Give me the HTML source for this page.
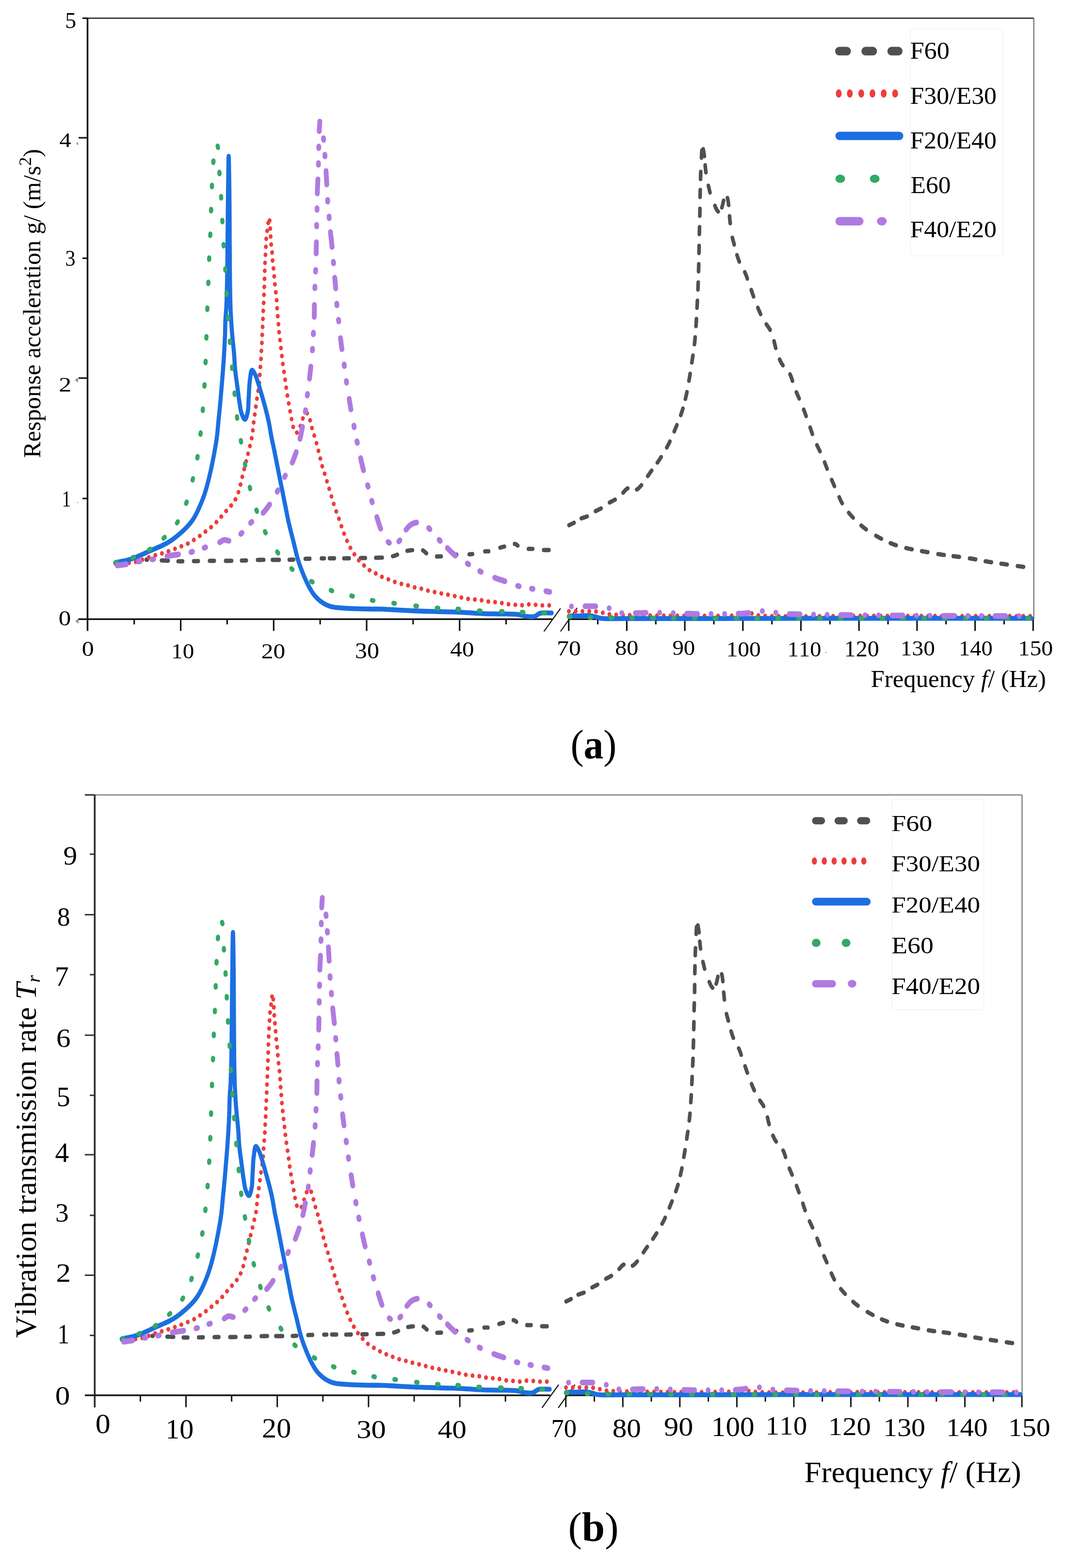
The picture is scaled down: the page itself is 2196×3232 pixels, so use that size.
<!DOCTYPE html>
<html><head><meta charset="utf-8"><style>
html,body{margin:0;padding:0;background:#fff;}
svg{display:block;filter:blur(0.5px);}
text{font-family:"Liberation Serif","Times New Roman",serif;font-kerning:none;}
</style></head><body>
<svg width="2196" height="3232" viewBox="0 0 2196 3232">
<rect width="2196" height="3232" fill="#fff"/>
<rect x="1877.2" y="59.3" width="191" height="468" fill="none" stroke="#f2f5fa" stroke-width="2"/>
<rect x="1838.5" y="1647.8" width="190" height="433.5" fill="none" stroke="#f2f5fa" stroke-width="2"/>
<line x1="180.5" y1="37.5" x2="2131.7" y2="37.5" stroke="#222" stroke-width="2.5" stroke-linecap="butt"/>
<line x1="2131.7" y1="37.5" x2="2131.7" y2="1276" stroke="#606060" stroke-width="2.0" stroke-linecap="butt"/>
<line x1="180.5" y1="37" x2="180.5" y2="1300.5" stroke="#141414" stroke-width="3.5" stroke-linecap="butt"/>
<line x1="161.5" y1="1276.2" x2="1138.7" y2="1276.2" stroke="#141414" stroke-width="3.5" stroke-linecap="butt"/>
<line x1="1172.5" y1="1276.2" x2="2131.7" y2="1276.2" stroke="#141414" stroke-width="3.5" stroke-linecap="butt"/>
<line x1="170" y1="37.5" x2="180.5" y2="37.5" stroke="#141414" stroke-width="3.2" stroke-linecap="butt"/>
<line x1="162" y1="284" x2="180.5" y2="284" stroke="#141414" stroke-width="3.2" stroke-linecap="butt"/>
<line x1="170" y1="532.3" x2="180.5" y2="532.3" stroke="#141414" stroke-width="3.2" stroke-linecap="butt"/>
<line x1="162" y1="779.3" x2="180.5" y2="779.3" stroke="#141414" stroke-width="3.2" stroke-linecap="butt"/>
<line x1="170" y1="1027.5" x2="180.5" y2="1027.5" stroke="#141414" stroke-width="3.2" stroke-linecap="butt"/>
<line x1="276.75" y1="1276" x2="276.75" y2="1287" stroke="#141414" stroke-width="3.2" stroke-linecap="butt"/>
<line x1="372.6" y1="1276" x2="372.6" y2="1300.5" stroke="#141414" stroke-width="3.2" stroke-linecap="butt"/>
<line x1="468.45000000000005" y1="1276" x2="468.45000000000005" y2="1287" stroke="#141414" stroke-width="3.2" stroke-linecap="butt"/>
<line x1="564.3000000000001" y1="1276" x2="564.3000000000001" y2="1300.5" stroke="#141414" stroke-width="3.2" stroke-linecap="butt"/>
<line x1="660.1500000000001" y1="1276" x2="660.1500000000001" y2="1287" stroke="#141414" stroke-width="3.2" stroke-linecap="butt"/>
<line x1="756.0" y1="1276" x2="756.0" y2="1300.5" stroke="#141414" stroke-width="3.2" stroke-linecap="butt"/>
<line x1="851.85" y1="1276" x2="851.85" y2="1287" stroke="#141414" stroke-width="3.2" stroke-linecap="butt"/>
<line x1="947.7" y1="1276" x2="947.7" y2="1300.5" stroke="#141414" stroke-width="3.2" stroke-linecap="butt"/>
<line x1="1043.5500000000002" y1="1276" x2="1043.5500000000002" y2="1287" stroke="#141414" stroke-width="3.2" stroke-linecap="butt"/>
<line x1="1172.7" y1="1276" x2="1172.7" y2="1300.5" stroke="#141414" stroke-width="3.2" stroke-linecap="butt"/>
<line x1="1232.55" y1="1276" x2="1232.55" y2="1287" stroke="#141414" stroke-width="3.2" stroke-linecap="butt"/>
<line x1="1292.4" y1="1276" x2="1292.4" y2="1300.5" stroke="#141414" stroke-width="3.2" stroke-linecap="butt"/>
<line x1="1352.25" y1="1276" x2="1352.25" y2="1287" stroke="#141414" stroke-width="3.2" stroke-linecap="butt"/>
<line x1="1412.1000000000001" y1="1276" x2="1412.1000000000001" y2="1300.5" stroke="#141414" stroke-width="3.2" stroke-linecap="butt"/>
<line x1="1471.95" y1="1276" x2="1471.95" y2="1287" stroke="#141414" stroke-width="3.2" stroke-linecap="butt"/>
<line x1="1531.8000000000002" y1="1276" x2="1531.8000000000002" y2="1300.5" stroke="#141414" stroke-width="3.2" stroke-linecap="butt"/>
<line x1="1591.65" y1="1276" x2="1591.65" y2="1287" stroke="#141414" stroke-width="3.2" stroke-linecap="butt"/>
<line x1="1651.5" y1="1276" x2="1651.5" y2="1300.5" stroke="#141414" stroke-width="3.2" stroke-linecap="butt"/>
<line x1="1711.35" y1="1276" x2="1711.35" y2="1287" stroke="#141414" stroke-width="3.2" stroke-linecap="butt"/>
<line x1="1771.2" y1="1276" x2="1771.2" y2="1300.5" stroke="#141414" stroke-width="3.2" stroke-linecap="butt"/>
<line x1="1831.0500000000002" y1="1276" x2="1831.0500000000002" y2="1287" stroke="#141414" stroke-width="3.2" stroke-linecap="butt"/>
<line x1="1890.9" y1="1276" x2="1890.9" y2="1300.5" stroke="#141414" stroke-width="3.2" stroke-linecap="butt"/>
<line x1="1950.75" y1="1276" x2="1950.75" y2="1287" stroke="#141414" stroke-width="3.2" stroke-linecap="butt"/>
<line x1="2010.6000000000001" y1="1276" x2="2010.6000000000001" y2="1300.5" stroke="#141414" stroke-width="3.2" stroke-linecap="butt"/>
<line x1="2070.45" y1="1276" x2="2070.45" y2="1287" stroke="#141414" stroke-width="3.2" stroke-linecap="butt"/>
<line x1="2130.3" y1="1276" x2="2130.3" y2="1300.5" stroke="#141414" stroke-width="3.2" stroke-linecap="butt"/>
<polygon points="157,296 161,292.5 161,299.5" fill="#8a8a8a"/>
<polygon points="154.6,783.6 160.9,778.2 160.9,788.6" fill="#8a8a8a"/>
<polygon points="155.5,1280 161.5,1275 161.5,1286" fill="#8a8a8a"/>
<circle cx="160" cy="1035.8" r="1.2" fill="#999"/>
<circle cx="1702.6" cy="1345" r="1.2" fill="#999"/>
<line x1="1121.6" y1="1301.6" x2="1155.8" y2="1254" stroke="#141414" stroke-width="2.2" stroke-linecap="butt"/>
<line x1="1155.8" y1="1301.6" x2="1190" y2="1253" stroke="#141414" stroke-width="2.2" stroke-linecap="butt"/>
<line x1="195.3" y1="1638.5" x2="2107.5" y2="1638.5" stroke="#666" stroke-width="2.2" stroke-linecap="butt"/>
<line x1="2107.5" y1="1638.5" x2="2107.5" y2="2876" stroke="#666" stroke-width="2.0" stroke-linecap="butt"/>
<line x1="195.3" y1="1638" x2="195.3" y2="2901" stroke="#2a2a2a" stroke-width="3.6" stroke-linecap="butt"/>
<line x1="175" y1="2876" x2="1134.4" y2="2876" stroke="#141414" stroke-width="3.5" stroke-linecap="butt"/>
<line x1="1166.7" y1="2876" x2="2107.5" y2="2876" stroke="#141414" stroke-width="3.5" stroke-linecap="butt"/>
<line x1="174.9" y1="1638.5" x2="195.3" y2="1638.5" stroke="#333" stroke-width="3.0" stroke-linecap="butt"/>
<line x1="185.2" y1="1760.7" x2="195.3" y2="1760.7" stroke="#333" stroke-width="3.0" stroke-linecap="butt"/>
<line x1="174.9" y1="1885.4" x2="195.3" y2="1885.4" stroke="#333" stroke-width="3.0" stroke-linecap="butt"/>
<line x1="185.2" y1="2009" x2="195.3" y2="2009" stroke="#333" stroke-width="3.0" stroke-linecap="butt"/>
<line x1="174.9" y1="2133.8" x2="195.3" y2="2133.8" stroke="#333" stroke-width="3.0" stroke-linecap="butt"/>
<line x1="185.2" y1="2257.7" x2="195.3" y2="2257.7" stroke="#333" stroke-width="3.0" stroke-linecap="butt"/>
<line x1="174.9" y1="2380.1" x2="195.3" y2="2380.1" stroke="#333" stroke-width="3.0" stroke-linecap="butt"/>
<line x1="185.2" y1="2505.1" x2="195.3" y2="2505.1" stroke="#333" stroke-width="3.0" stroke-linecap="butt"/>
<line x1="174.9" y1="2628.5" x2="195.3" y2="2628.5" stroke="#333" stroke-width="3.0" stroke-linecap="butt"/>
<line x1="185.2" y1="2752.6" x2="195.3" y2="2752.6" stroke="#333" stroke-width="3.0" stroke-linecap="butt"/>
<line x1="289.4" y1="2876" x2="289.4" y2="2889" stroke="#141414" stroke-width="3.0" stroke-linecap="butt"/>
<line x1="383.5" y1="2876" x2="383.5" y2="2900.5" stroke="#141414" stroke-width="3.0" stroke-linecap="butt"/>
<line x1="477.6" y1="2876" x2="477.6" y2="2889" stroke="#141414" stroke-width="3.0" stroke-linecap="butt"/>
<line x1="571.7" y1="2876" x2="571.7" y2="2900.5" stroke="#141414" stroke-width="3.0" stroke-linecap="butt"/>
<line x1="665.8" y1="2876" x2="665.8" y2="2889" stroke="#141414" stroke-width="3.0" stroke-linecap="butt"/>
<line x1="759.9000000000001" y1="2876" x2="759.9000000000001" y2="2900.5" stroke="#141414" stroke-width="3.0" stroke-linecap="butt"/>
<line x1="854.0" y1="2876" x2="854.0" y2="2889" stroke="#141414" stroke-width="3.0" stroke-linecap="butt"/>
<line x1="948.0999999999999" y1="2876" x2="948.0999999999999" y2="2900.5" stroke="#141414" stroke-width="3.0" stroke-linecap="butt"/>
<line x1="1042.2" y1="2876" x2="1042.2" y2="2889" stroke="#141414" stroke-width="3.0" stroke-linecap="butt"/>
<line x1="1166.7" y1="2876" x2="1166.7" y2="2900.5" stroke="#141414" stroke-width="3.0" stroke-linecap="butt"/>
<line x1="1225.4750000000001" y1="2876" x2="1225.4750000000001" y2="2889" stroke="#141414" stroke-width="3.0" stroke-linecap="butt"/>
<line x1="1284.25" y1="2876" x2="1284.25" y2="2900.5" stroke="#141414" stroke-width="3.0" stroke-linecap="butt"/>
<line x1="1343.025" y1="2876" x2="1343.025" y2="2889" stroke="#141414" stroke-width="3.0" stroke-linecap="butt"/>
<line x1="1401.8000000000002" y1="2876" x2="1401.8000000000002" y2="2900.5" stroke="#141414" stroke-width="3.0" stroke-linecap="butt"/>
<line x1="1460.575" y1="2876" x2="1460.575" y2="2889" stroke="#141414" stroke-width="3.0" stroke-linecap="butt"/>
<line x1="1519.3500000000001" y1="2876" x2="1519.3500000000001" y2="2900.5" stroke="#141414" stroke-width="3.0" stroke-linecap="butt"/>
<line x1="1578.125" y1="2876" x2="1578.125" y2="2889" stroke="#141414" stroke-width="3.0" stroke-linecap="butt"/>
<line x1="1636.9" y1="2876" x2="1636.9" y2="2900.5" stroke="#141414" stroke-width="3.0" stroke-linecap="butt"/>
<line x1="1695.6750000000002" y1="2876" x2="1695.6750000000002" y2="2889" stroke="#141414" stroke-width="3.0" stroke-linecap="butt"/>
<line x1="1754.45" y1="2876" x2="1754.45" y2="2900.5" stroke="#141414" stroke-width="3.0" stroke-linecap="butt"/>
<line x1="1813.2250000000001" y1="2876" x2="1813.2250000000001" y2="2889" stroke="#141414" stroke-width="3.0" stroke-linecap="butt"/>
<line x1="1872.0" y1="2876" x2="1872.0" y2="2900.5" stroke="#141414" stroke-width="3.0" stroke-linecap="butt"/>
<line x1="1930.775" y1="2876" x2="1930.775" y2="2889" stroke="#141414" stroke-width="3.0" stroke-linecap="butt"/>
<line x1="1989.5500000000002" y1="2876" x2="1989.5500000000002" y2="2900.5" stroke="#141414" stroke-width="3.0" stroke-linecap="butt"/>
<line x1="2048.3250000000003" y1="2876" x2="2048.3250000000003" y2="2889" stroke="#141414" stroke-width="3.0" stroke-linecap="butt"/>
<line x1="2107.1000000000004" y1="2876" x2="2107.1000000000004" y2="2900.5" stroke="#141414" stroke-width="3.0" stroke-linecap="butt"/>
<line x1="1117.5" y1="2902" x2="1152" y2="2854" stroke="#141414" stroke-width="2.2" stroke-linecap="butt"/>
<line x1="1151" y1="2902" x2="1185.5" y2="2854" stroke="#141414" stroke-width="2.2" stroke-linecap="butt"/>
<g transform="scale(1,1.18)"><path d="M301.8,977.57 303.6,977.62 M333.1,978.89 335.9,979.02 339.0,979.15 341.8,979.28 344.6,979.41 346.7,979.51 M367.3,980.40 369.3,980.46 372.0,980.51 374.7,980.54 376.5,980.55 M399.5,980.24 401.3,980.21 404.0,980.17 406.7,980.13 408.7,980.10 M432.2,979.71 434.2,979.69 437.0,979.66 439.7,979.65 441.7,979.64 M465.3,979.69 467.3,979.68 470.0,979.66 472.8,979.63 475.5,979.60 477.5,979.58 M498.2,979.18 500.3,979.14 503.0,979.07 505.8,978.99 507.8,978.93 M531.2,978.07 533.2,978.02 536.0,977.97 538.8,977.93 541.6,977.90 543.7,977.89 M561.9,977.94 563.8,977.95 566.4,977.96 569.0,977.97 571.1,977.97 573.2,977.98 575.2,978.00 575.6,978.00 M596.5,977.85 598.1,977.78 600.7,977.65 603.4,977.51 605.3,977.40 M629.5,976.15 629.8,976.14 633.8,976.02 637.9,975.91 638.6,975.89 M662.9,975.42 663.7,975.40 667.9,975.35 668.5,975.34 M679.5,975.23 682.8,975.21 686.2,975.21 689.3,975.21 M709.1,975.28 711.9,975.27 715.0,975.25 717.8,975.23 719.9,975.21 M743.3,974.83 745.2,974.79 748.0,974.75 750.8,974.70 753.2,974.67 M774.9,974.33 776.9,974.29 779.5,974.23 782.0,974.15 783.7,974.10 785.4,974.06 786.9,974.02 788.0,974.00 M809.8,971.67 810.1,971.61 811.3,971.32 812.5,971.01 813.8,970.69 815.0,970.34 816.3,969.94 817.5,969.48 818.8,968.99 819.3,968.78 M839.6,962.23 840.0,962.17 841.2,961.97 842.5,961.78 843.7,961.60 845.0,961.44 846.3,961.29 847.5,961.16 848.8,961.05 850.1,960.95 850.4,960.93 M871.8,961.33 872.6,961.70 873.4,962.15 874.1,962.64 874.9,963.18 875.6,963.74 876.3,964.31 877.0,964.89 877.7,965.45 878.5,965.99 879.2,966.50 879.3,966.53 M900.6,972.07 901.0,972.08 902.3,972.07 903.7,972.05 905.0,972.03 906.6,971.99 908.2,971.92 909.6,971.82 M935.1,969.40 936.5,969.27 938.2,969.12 939.8,968.99 941.5,968.86 M967.6,968.28 968.1,968.26 970.0,968.14 971.4,968.02 972.7,967.89 974.0,967.75 974.3,967.72 M999.8,963.16 1000.0,963.14 1001.0,963.04 1002.1,962.99 1003.1,962.97 1004.0,962.97 1005.0,962.99 1006.0,963.02 1007.0,963.04 1007.5,963.04 M1031.1,956.73 1031.6,956.60 1033.0,956.28 1034.3,955.97 1035.6,955.66 1036.9,955.36 1038.2,955.06 1039.6,954.76 1040.0,954.65 M1061.1,950.12 1061.2,950.12 1061.8,950.23 1062.3,950.35 1062.9,950.49 1063.4,950.66 1064.0,950.85 1064.7,951.12 1065.3,951.47 1065.9,951.87 1066.6,952.31 1067.2,952.79 1067.6,953.15 M1089.7,958.70 1090.0,958.71 1091.3,958.74 1092.6,958.75 1093.9,958.75 1095.3,958.75 1096.6,958.75 1097.9,958.76 1098.3,958.76 M1121.0,960.74 1122.2,960.78 1123.8,960.80 1125.5,960.82 1127.1,960.83 1128.8,960.83 1130.4,960.83 1131.9,960.82" fill="none" stroke="#505050" stroke-width="7.5" stroke-linecap="round" stroke-linejoin="round"/>
<path d="M1173.3,917.46 1174.1,917.13 1174.9,916.81 1175.6,916.50 1176.4,916.19 1177.2,915.88 1177.9,915.57 1178.7,915.25 1179.5,914.92 1180.3,914.59 1181.1,914.23 1182.0,913.86 1182.8,913.47 1183.7,913.06 M1198.7,905.55 1199.5,905.27 1200.8,904.87 1202.1,904.50 1203.4,904.14 1204.7,903.78 1206.0,903.43 1207.3,903.07 1208.6,902.69 1209.8,902.28 1210.7,901.99 M1227.9,892.97 1228.2,892.85 1229.5,892.25 1230.9,891.67 1232.3,891.09 1233.7,890.51 1235.0,889.93 1236.4,889.34 1237.8,888.74 1239.1,888.13 1239.4,888.00 M1256.9,877.84 1257.5,877.58 1258.7,876.99 1260.0,876.42 1261.3,875.86 1262.6,875.30 1263.9,874.73 1265.2,874.15 1266.5,873.56 1267.8,872.94 1268.3,872.66 M1284.8,860.77 1285.1,860.51 1285.8,859.81 1286.5,859.10 1287.2,858.40 1287.9,857.71 1288.5,857.04 1289.2,856.40 1289.9,855.79 1290.6,855.22 1291.3,854.70 1292.0,854.24 1292.6,853.90 1293.1,853.57 1293.7,853.25 1294.3,852.95 1294.4,852.91 M1312.9,855.14 1313.0,855.08 1313.8,854.73 1314.6,854.28 1315.5,853.74 1316.3,853.14 1317.2,852.46 1318.1,851.73 1318.9,850.96 1319.8,850.13 1320.7,849.28 1321.6,848.40 1322.5,847.51 1322.6,847.43 M1335.7,831.66 1336.8,830.28 1338.2,828.52 1339.6,826.78 1341.2,824.90 1342.8,823.00 1343.6,822.01 M1355.5,808.19 1356.2,807.37 1357.8,805.35 1359.4,803.31 1361.0,801.16 1362.7,798.99 1363.2,798.33 M1374.9,781.73 1375.3,781.04 1376.8,778.75 1378.2,776.44 1379.6,774.13 1380.9,771.79 1381.3,771.04 M1390.3,753.59 1390.7,752.75 1391.8,750.36 1393.0,747.97 1394.2,745.60 1395.3,743.23 1395.7,742.35 M1403.7,725.20 1404.1,724.20 1405.1,721.81 1406.0,719.41 1406.9,717.05 1407.7,714.70 1408.1,713.53 M1413.3,696.88 1413.6,695.72 1414.2,693.29 1414.9,690.85 1415.6,688.26 1416.2,685.65 1416.4,684.78 M1420.6,665.11 1420.7,664.32 1421.3,661.65 1421.8,658.98 1422.3,656.33 1422.9,653.68 1423.0,652.85 M1426.6,633.28 1426.8,632.43 1427.2,629.78 1427.7,627.12 1428.2,624.47 1428.6,621.81 1428.8,620.96 M1431.9,601.45 1432.0,600.57 1432.4,597.91 1432.7,595.25 1433.0,592.60 1433.3,589.95 1433.4,589.04 M1435.1,569.62 1435.2,568.71 1435.4,566.05 1435.6,563.39 1435.8,560.73 1436.0,558.07 1436.0,557.16 M1437.2,537.68 1437.3,536.76 1437.4,534.10 1437.6,531.44 1437.8,528.78 1437.9,526.13 1438.0,525.20 M1439.1,505.82 1439.1,504.89 1439.3,502.23 1439.4,499.58 1439.5,496.91 1439.6,494.22 1439.7,493.33 M1440.4,473.96 1440.4,472.77 1440.5,470.21 1440.6,467.71 1440.7,465.59 1440.7,463.54 1440.8,461.53 1440.8,461.47 M1441.3,441.95 1441.4,441.00 1441.4,438.38 1441.5,435.70 1441.5,432.98 1441.6,430.22 1441.6,429.45 M1442.0,409.04 1442.1,408.10 1442.2,405.44 1442.2,402.79 1442.3,400.15 1442.4,397.51 1442.5,396.55 M1443.0,377.06 1443.1,376.27 1443.1,373.54 1443.2,370.81 1443.2,368.07 1443.2,365.33 1443.2,364.56 M1443.5,344.18 1443.6,343.48 1443.6,340.73 1443.7,337.94 1443.8,335.13 1443.8,332.33 1443.9,331.69 M1444.5,312.71 1444.5,311.55 1444.5,310.22 1444.6,308.93 1444.6,307.69 1444.7,306.47 1444.7,305.27 1444.8,304.07 1444.8,302.88 1444.9,301.66 1444.9,300.43 1444.9,300.22 M1446.4,275.57 1446.5,275.23 1446.6,272.30 1446.8,269.33 1447.0,266.41 1447.2,263.66 1447.2,263.09 M1450.0,260.43 1450.0,260.54 1450.2,261.29 1450.3,262.03 1450.5,262.71 1450.7,263.62 1450.9,264.56 1451.1,265.53 1451.3,266.53 1451.5,267.55 1451.7,268.61 1451.9,269.69 1452.1,270.79 1452.3,271.92 1452.4,272.68 M1454.1,288.69 1454.1,289.53 1454.3,291.36 1454.5,293.16 1454.7,294.91 1454.9,296.61 1455.1,298.08 1455.3,299.50 1455.5,300.89 1455.6,301.10 M1460.6,324.27 1460.9,325.28 1461.6,327.79 1462.3,330.30 1463.0,332.78 1463.7,335.19 1464.0,336.29 M1474.1,359.24 1474.5,360.10 1474.9,361.09 1475.4,362.06 1475.9,363.01 1476.4,363.93 1476.9,364.82 1477.4,365.65 1477.9,366.43 1478.4,367.15 1479.0,367.80 1479.4,368.22 1479.8,368.64 1480.2,369.07 1480.7,369.48 1480.8,369.63 M1488.5,362.42 1488.6,361.98 1489.0,361.02 1489.4,359.95 1489.7,358.83 1490.1,357.67 1490.4,356.48 1490.7,355.27 1491.0,354.06 1491.3,352.86 1491.6,351.69 1491.9,350.55 1492.0,350.43 M1500.0,345.98 1500.0,346.04 1500.3,346.77 1500.5,347.46 1500.8,348.31 1501.0,349.20 1501.2,350.11 1501.4,351.06 1501.6,352.03 1501.7,353.02 1501.8,354.03 1502.0,355.06 1502.1,356.11 1502.2,357.17 1502.4,358.22 M1504.3,377.62 1504.3,378.01 1504.5,379.21 1504.6,380.39 1504.7,381.55 1504.8,382.70 1504.9,383.84 1505.1,384.99 1505.2,386.15 1505.3,387.32 1505.5,388.52 1505.6,389.75 1505.7,390.05 M1510.1,415.20 1510.2,415.43 1510.6,416.88 1511.1,418.31 1511.5,419.74 1512.0,421.16 1512.5,422.57 1512.9,423.98 1513.4,425.39 1513.9,426.81 1513.9,427.09 M1519.7,445.54 1519.8,445.81 1520.2,446.95 1520.6,448.08 1521.1,449.20 1521.5,450.31 1521.9,451.40 1522.3,452.48 1522.8,453.55 1523.2,454.60 1523.7,455.63 1524.1,456.64 1524.4,457.14 M1535.7,475.30 1536.1,476.02 1536.9,477.51 1537.7,479.12 1538.5,480.83 1539.3,482.62 1540.1,484.49 1540.9,486.42 1540.9,486.63 M1549.1,506.45 1549.6,507.71 1550.6,510.10 1551.5,512.50 1552.5,514.91 1553.5,517.34 1553.8,518.02 M1562.7,537.52 1563.9,540.06 1565.2,542.69 1566.6,545.31 1567.9,547.89 1568.3,548.69 M1580.2,566.48 1580.7,567.09 1582.2,568.85 1583.7,570.62 1585.2,572.41 1586.6,574.24 1588.0,576.13 1588.0,576.21 M1596.1,595.95 1596.2,596.41 1597.0,599.28 1597.8,602.12 1598.6,604.92 1599.4,607.65 1599.5,607.97 M1607.6,627.79 1607.9,628.32 1608.8,630.11 1609.8,631.86 1610.9,633.58 1612.0,635.25 1613.1,636.75 1614.4,638.16 1614.4,638.22 M1629.0,653.77 1630.1,655.82 1631.2,658.09 1632.2,660.44 1633.2,662.87 1634.0,665.21 M1642.1,685.04 1643.3,687.39 1644.5,689.75 1645.7,692.12 1647.0,694.48 1647.8,696.15 M1657.2,715.41 1657.6,716.39 1658.8,718.95 1659.9,721.51 1661.0,724.08 1662.1,726.66 1662.2,726.87 M1670.5,746.64 1670.5,746.64 1671.4,749.04 1672.4,751.43 1673.3,753.82 1674.3,756.20 1675.1,758.23 M1684.5,777.49 1684.6,777.60 1685.9,779.97 1687.3,782.34 1688.6,784.71 1690.0,787.08 1690.7,788.34 M1700.3,807.48 1700.8,808.44 1701.8,810.82 1702.9,813.19 1704.0,815.58 1705.0,817.96 1705.4,818.88 M1714.9,838.13 1716.1,840.60 1717.5,843.19 1718.8,845.77 1720.1,848.33 1720.6,849.23 M1730.4,868.32 1731.0,869.50 1732.1,871.72 1733.3,873.92 1734.5,876.08 1735.8,878.22 1736.5,879.22 M1750.1,895.71 1751.7,897.33 1753.5,899.08 1755.3,900.82 1757.1,902.54 1759.0,904.24 1759.1,904.35 M1775.7,917.87 1776.6,918.53 1778.7,920.00 1780.8,921.46 1783.0,922.88 1785.2,924.31 1786.1,924.84 M1806.1,935.76 1806.8,936.11 1809.2,937.30 1811.7,938.47 1814.1,939.62 1816.6,940.75 1817.4,941.10 M1835.9,948.67 1836.6,948.94 1839.2,949.83 1841.8,950.68 1844.4,951.49 1847.1,952.27 1847.8,952.46 M1868.2,957.25 1868.8,957.38 1871.6,957.93 1874.3,958.47 1877.0,958.99 1879.7,959.47 1880.4,959.60 M1900.6,962.64 1901.3,962.75 1904.1,963.15 1906.8,963.56 1909.6,963.99 1912.4,964.43 1913.0,964.52 M1934.3,967.79 1934.9,967.88 1937.7,968.27 1940.5,968.64 1943.1,968.98 1945.8,969.30 1946.7,969.41 M1965.6,971.43 1966.5,971.53 1969.2,971.82 1971.8,972.12 1974.6,972.44 1977.4,972.76 1978.0,972.83 M1999.3,975.36 1999.9,975.44 2002.7,975.81 2005.5,976.19 2008.2,976.58 2011.0,976.98 2011.7,977.10 M2031.8,980.35 2032.6,980.47 2035.3,980.88 2038.0,981.27 2040.7,981.65 2043.4,982.01 2044.2,982.11 M2064.3,984.58 2065.0,984.67 2067.8,985.00 2070.5,985.34 2073.4,985.69 2076.3,986.06 2076.7,986.11 M2098.0,988.74 2099.8,988.96 2102.2,989.25 2104.2,989.49 2105.1,989.60 2106.0,989.70 2106.8,989.80 2107.6,989.89 2108.3,989.97 2109.0,990.05 2109.6,990.12 2110.3,990.20 2110.4,990.21" fill="none" stroke="#505050" stroke-width="7.5" stroke-linecap="round" stroke-linejoin="round"/>
<path d="M238.0,984.41 243.1,984.13 248.3,983.92 253.5,983.74 258.7,983.55 263.8,983.30 268.8,982.95 273.7,982.46 278.3,981.78 282.1,981.01 285.9,980.07 289.6,979.01 293.2,977.89 296.6,976.75 300.0,975.64 303.1,974.62 306.1,973.73 308.1,973.18 309.9,972.67 311.7,972.19 313.4,971.74 315.0,971.30 316.6,970.86 318.3,970.43 320.0,970.00 321.7,969.58 323.4,969.18 325.0,968.78 326.7,968.39 328.4,968.01 330.1,967.61 331.7,967.20 333.4,966.78 335.1,966.34 336.7,965.89 338.4,965.44 340.0,964.98 341.7,964.51 343.4,964.03 345.0,963.54 346.7,963.05 348.4,962.54 350.2,962.01 351.9,961.47 353.7,960.93 355.4,960.38 357.2,959.83 358.9,959.28 360.6,958.73 362.2,958.20 363.8,957.66 365.4,957.12 367.0,956.57 368.6,956.03 370.1,955.49 371.7,954.95 373.3,954.41 374.9,953.89 376.5,953.39 378.0,952.90 379.6,952.40 381.2,951.89 382.8,951.36 384.3,950.79 385.9,950.17 387.5,949.46 389.1,948.71 390.7,947.92 392.3,947.09 393.9,946.25 395.5,945.41 397.1,944.56 398.6,943.73 400.1,942.94 401.5,942.14 403.0,941.34 404.4,940.54 405.8,939.73 407.2,938.92 408.6,938.11 410.0,937.29 411.3,936.51 412.6,935.75 413.8,935.00 415.0,934.25 416.3,933.46 417.6,932.63 418.9,931.74 420.4,930.76 422.9,929.13 425.6,927.33 428.4,925.40 431.4,923.36 434.5,921.24 437.5,919.07 440.4,916.87 443.2,914.66 445.9,912.38 448.5,910.02 451.1,907.59 453.6,905.12 456.1,902.64 458.6,900.17 461.1,897.73 463.5,895.34 465.8,893.13 468.2,890.92 470.6,888.73 473.0,886.55 475.3,884.39 477.4,882.27 479.4,880.18 481.2,878.14 482.4,876.61 483.5,875.13 484.5,873.68 485.5,872.24 486.4,870.80 487.2,869.35 488.0,867.87 488.8,866.36 489.6,864.79 490.3,863.21 491.0,861.60 491.6,859.98 492.2,858.35 492.8,856.70 493.3,855.05 493.9,853.39 494.4,851.68 494.9,849.95 495.4,848.20 495.9,846.45 496.3,844.69 496.8,842.94 497.2,841.21 497.7,839.49 498.2,837.89 498.6,836.34 499.1,834.82 499.5,833.30 500.0,831.74 500.5,830.13 501.0,828.43 501.5,826.61 502.3,823.75 503.3,820.58 504.2,817.21 505.2,813.73 506.3,810.25 507.2,806.87 508.2,803.70 509.0,800.85 509.5,799.03 510.0,797.33 510.5,795.72 511.0,794.16 511.4,792.64 511.9,791.12 512.3,789.57 512.8,787.97 513.3,786.25 513.8,784.51 514.3,782.76 514.8,781.01 515.3,779.25 515.8,777.49 516.2,775.73 516.7,773.98 517.2,772.26 517.6,770.53 518.1,768.81 518.6,767.08 519.0,765.36 519.5,763.65 519.8,761.95 520.2,760.25 520.5,758.67 520.7,757.10 521.0,755.54 521.2,753.99 521.3,752.43 521.5,750.87 521.7,749.30 521.9,747.71 522.1,746.04 522.3,744.36 522.5,742.66 522.7,740.96 522.9,739.26 523.1,737.55 523.4,735.85 523.6,734.15 523.9,732.47 524.1,730.79 524.4,729.12 524.7,727.44 525.0,725.76 525.3,724.08 525.6,722.39 525.9,720.68 526.2,718.89 526.5,717.09 526.8,715.27 527.1,713.45 527.3,711.63 527.6,709.81 527.9,707.99 528.2,706.19 528.5,704.41 528.8,702.64 529.0,700.88 529.3,699.11 529.6,697.35 529.9,695.60 530.2,693.86 530.5,692.12 530.8,690.44 531.1,688.78 531.4,687.12 531.8,685.47 532.1,683.82 532.4,682.16 532.7,680.50 533.0,678.81 533.3,677.07 533.6,675.30 533.8,673.53 534.1,671.75 534.4,669.97 534.6,668.19 534.8,666.42 535.0,664.66 535.1,662.96 535.3,661.26 535.4,659.57 535.4,657.88 535.5,656.19 535.6,654.50 535.7,652.80 535.8,651.10 536.0,649.36 536.1,647.61 536.3,645.86 536.5,644.11 536.7,642.36 536.9,640.60 537.1,638.86 537.3,637.12 537.5,635.41 537.6,633.71 537.8,632.02 537.9,630.32 538.1,628.63 538.2,626.94 538.4,625.25 538.5,623.56 538.6,621.88 538.7,620.20 538.8,618.52 538.9,616.84 538.9,615.16 539.0,613.47 539.1,611.78 539.2,610.08 539.3,608.34 539.4,606.59 539.6,604.83 539.7,603.07 539.8,601.30 540.0,599.54 540.1,597.78 540.2,596.02 540.3,594.27 540.4,592.53 540.5,590.79 540.6,589.05 540.6,587.31 540.7,585.56 540.8,583.80 540.9,582.03 541.0,580.18 541.1,578.29 541.2,576.39 541.3,574.49 541.4,572.59 541.5,570.71 541.6,568.85 541.7,567.03 541.8,565.40 541.9,563.80 542.0,562.23 542.1,560.66 542.1,559.10 542.2,557.53 542.3,555.94 542.4,554.32 542.5,552.55 542.6,550.76 542.6,548.94 542.7,547.11 542.8,545.27 542.8,543.44 542.9,541.63 543.0,539.83 543.1,538.10 543.2,536.38 543.3,534.67 543.4,532.96 543.5,531.26 543.6,529.56 543.7,527.87 543.8,526.19 543.9,524.56 544.0,522.95 544.0,521.35 544.1,519.75 544.2,518.15 544.3,516.54 544.3,514.93 544.4,513.31 544.5,511.62 544.6,509.93 544.6,508.24 544.7,506.53 544.8,504.82 544.9,503.11 544.9,501.39 545.0,499.66 545.1,497.87 545.2,496.07 545.2,494.26 545.3,492.44 545.4,490.62 545.5,488.80 545.5,486.98 545.6,485.17 545.7,483.36 545.7,481.54 545.8,479.72 545.8,477.90 545.8,476.08 545.9,474.27 545.9,472.47 546.0,470.68 546.1,468.95 546.1,467.23 546.2,465.52 546.3,463.81 546.3,462.11 546.4,460.40 546.5,458.68 546.6,456.95 546.7,455.16 546.8,453.35 546.9,451.54 547.0,449.73 547.1,447.91 547.3,446.09 547.4,444.27 547.5,442.46 547.6,440.64 547.7,438.81 547.8,436.99 548.0,435.16 548.1,433.34 548.2,431.53 548.3,429.74 548.4,427.97 548.5,426.32 548.6,424.71 548.7,423.11 548.7,421.52 548.8,419.93 548.9,418.34 549.0,416.72 549.2,415.08 549.4,413.33 549.6,411.57 549.9,409.81 550.1,408.03 550.4,406.23 550.7,404.40 551.0,402.52 551.3,400.59 551.7,397.96 552.2,394.85 552.7,391.53 553.2,388.23 553.7,385.23 554.2,382.77 554.6,381.11 555.0,380.51 555.3,380.99 555.6,382.31 555.9,384.25 556.1,386.63 556.4,389.26 556.6,391.92 556.8,394.44 557.0,396.61 557.2,398.37 557.3,400.09 557.4,401.79 557.5,403.48 557.6,405.16 557.7,406.84 557.8,408.54 557.9,410.25 558.0,412.05 558.1,413.86 558.2,415.68 558.3,417.50 558.5,419.32 558.6,421.14 558.7,422.95 558.9,424.75 559.1,426.48 559.3,428.21 559.6,429.92 559.9,431.64 560.1,433.34 560.4,435.05 560.6,436.76 560.8,438.47 561.0,440.18 561.1,441.89 561.2,443.59 561.2,445.30 561.3,447.00 561.4,448.71 561.5,450.41 561.7,452.12 561.9,453.83 562.1,455.55 562.4,457.27 562.6,458.98 562.9,460.70 563.1,462.42 563.4,464.13 563.6,465.85 563.8,467.55 564.0,469.26 564.2,470.96 564.4,472.67 564.6,474.37 564.7,476.08 564.9,477.78 565.1,479.49 565.3,481.20 565.4,482.91 565.6,484.62 565.8,486.33 566.0,488.05 566.1,489.76 566.3,491.49 566.5,493.22 566.7,495.01 566.9,496.81 567.1,498.61 567.4,500.43 567.6,502.24 567.8,504.04 568.1,505.84 568.3,507.63 568.5,509.36 568.8,511.08 569.0,512.80 569.3,514.51 569.6,516.22 569.8,517.93 570.0,519.64 570.2,521.36 570.4,523.06 570.5,524.77 570.6,526.47 570.7,528.18 570.8,529.88 570.9,531.59 571.0,533.29 571.1,535.00 571.2,536.71 571.4,538.43 571.5,540.15 571.7,541.87 571.8,543.58 572.0,545.30 572.1,547.02 572.3,548.73 572.5,550.44 572.7,552.14 572.9,553.85 573.0,555.55 573.2,557.25 573.4,558.96 573.6,560.67 573.8,562.37 574.0,564.09 574.1,565.80 574.2,567.52 574.4,569.24 574.5,570.96 574.7,572.67 574.8,574.39 575.0,576.10 575.2,577.81 575.4,579.52 575.6,581.22 575.9,582.93 576.1,584.63 576.3,586.34 576.6,588.04 576.8,589.75 577.0,591.45 577.3,593.16 577.5,594.86 577.7,596.57 578.0,598.27 578.2,599.98 578.5,601.68 578.7,603.39 578.9,605.10 579.2,606.82 579.4,608.53 579.7,610.25 579.9,611.97 580.1,613.69 580.4,615.40 580.6,617.12 580.8,618.84 581.1,620.55 581.3,622.27 581.5,623.99 581.8,625.70 582.0,627.42 582.3,629.13 582.5,630.85 582.8,632.56 583.0,634.27 583.3,635.99 583.5,637.70 583.8,639.41 584.0,641.11 584.3,642.81 584.6,644.49 584.9,646.12 585.2,647.73 585.5,649.33 585.8,650.93 586.1,652.53 586.4,654.13 586.7,655.74 587.0,657.37 587.3,659.07 587.6,660.77 587.8,662.49 588.1,664.21 588.4,665.94 588.7,667.66 588.9,669.38 589.2,671.10 589.5,672.81 589.7,674.51 590.0,676.21 590.3,677.91 590.5,679.61 590.8,681.32 591.1,683.03 591.4,684.75 591.7,686.51 592.1,688.29 592.4,690.08 592.8,691.87 593.1,693.65 593.5,695.44 593.8,697.22 594.2,698.98 594.5,700.71 594.9,702.42 595.2,704.14 595.6,705.85 595.9,707.55 596.3,709.25 596.6,710.94 597.0,712.63 597.4,714.25 597.7,715.86 598.1,717.45 598.4,719.04 598.8,720.64 599.2,722.24 599.5,723.86 599.9,725.51 600.3,727.28 600.6,729.09 601.0,730.91 601.3,732.75 601.7,734.58 602.0,736.41 602.4,738.22 602.9,740.00 603.4,741.78 603.9,743.66 604.4,745.57 604.9,747.44 605.5,749.22 606.1,750.85 606.8,752.26 607.5,753.39 607.9,753.89 608.3,754.36 608.7,754.79 609.2,755.16 609.6,755.47 610.1,755.71 610.5,755.87 611.0,755.93 611.5,755.89 612.0,755.74 612.5,755.50 613.0,755.19 613.5,754.81 614.0,754.37 614.5,753.89 615.0,753.39 615.8,752.37 616.5,751.11 617.2,749.67 617.9,748.10 618.6,746.46 619.2,744.79 619.9,743.16 620.5,741.61 621.1,740.11 621.7,738.57 622.2,737.01 622.7,735.46 623.2,733.93 623.8,732.44 624.4,731.01 625.0,729.66 625.6,728.54 626.1,727.38 626.7,726.22 627.3,725.11 628.0,724.09 628.6,723.21 629.3,722.51 630.0,722.03 630.4,721.85 630.9,721.72 631.3,721.63 631.8,721.60 632.2,721.62 632.7,721.70 633.1,721.84 633.5,722.03 634.3,722.69 635.0,723.69 635.7,724.97 636.4,726.44 637.0,728.04 637.6,729.68 638.2,731.29 638.8,732.80 639.4,734.34 639.9,735.91 640.3,737.51 640.8,739.13 641.2,740.76 641.6,742.40 642.1,744.04 642.6,745.68 643.2,747.37 643.7,749.08 644.3,750.79 644.9,752.51 645.6,754.22 646.2,755.93 646.8,757.63 647.4,759.32 648.0,760.95 648.6,762.57 649.2,764.18 649.8,765.78 650.4,767.38 651.0,768.99 651.6,770.59 652.1,772.20 652.6,773.81 653.1,775.42 653.6,777.03 654.1,778.64 654.5,780.25 655.0,781.86 655.4,783.47 655.9,785.08 656.4,786.69 656.9,788.29 657.3,789.90 657.8,791.50 658.3,793.10 658.8,794.72 659.2,796.34 659.7,797.97 660.2,799.66 660.6,801.38 661.1,803.11 661.5,804.84 662.0,806.57 662.5,808.29 663.0,810.00 663.5,811.69 664.0,813.33 664.6,814.95 665.2,816.57 665.8,818.17 666.5,819.77 667.1,821.37 667.7,822.97 668.3,824.58 668.9,826.18 669.5,827.79 670.1,829.39 670.7,830.99 671.2,832.60 671.8,834.21 672.4,835.83 673.0,837.46 673.6,839.14 674.2,840.84 674.8,842.54 675.4,844.25 676.0,845.97 676.6,847.68 677.2,849.39 677.8,851.10 678.4,852.81 679.0,854.52 679.6,856.23 680.1,857.95 680.7,859.66 681.3,861.36 681.9,863.06 682.5,864.75 683.1,866.38 683.7,868.01 684.3,869.63 684.9,871.24 685.5,872.86 686.1,874.47 686.7,876.09 687.3,877.71 687.9,879.37 688.5,881.03 689.2,882.70 689.8,884.37 690.4,886.04 691.1,887.71 691.7,889.37 692.4,891.02 693.1,892.64 693.8,894.26 694.5,895.87 695.2,897.47 695.9,899.08 696.6,900.68 697.3,902.29 698.0,903.90 698.7,905.51 699.3,907.12 699.9,908.74 700.6,910.35 701.2,911.97 701.8,913.58 702.5,915.18 703.1,916.78 703.7,918.34 704.3,919.88 705.0,921.42 705.6,922.96 706.2,924.50 706.9,926.04 707.5,927.59 708.2,929.15 708.9,930.81 709.7,932.49 710.5,934.19 711.3,935.88 712.1,937.58 712.9,939.26 713.7,940.91 714.5,942.54 715.3,944.06 716.0,945.56 716.8,947.04 717.6,948.50 718.4,949.96 719.2,951.42 720.0,952.87 720.9,954.32 721.8,955.82 722.8,957.33 723.8,958.83 724.8,960.33 725.9,961.82 726.9,963.29 728.0,964.75 729.1,966.19 730.2,967.57 731.2,968.95 732.3,970.32 733.4,971.67 734.5,973.00 735.6,974.31 736.8,975.60 738.0,976.86 739.2,978.09 740.5,979.28 741.8,980.46 743.1,981.61 744.5,982.74 745.9,983.87 747.2,984.99 748.6,986.10 750.0,987.22 751.3,988.34 752.7,989.47 754.0,990.58 755.4,991.66 756.9,992.71 758.3,993.71 759.8,994.66 761.3,995.53 762.9,996.33 764.5,997.09 766.1,997.82 767.8,998.52 769.4,999.22 771.1,999.94 772.7,1000.68 774.3,1001.45 775.9,1002.23 777.5,1003.02 779.0,1003.81 780.6,1004.59 782.2,1005.35 783.8,1006.08 785.5,1006.78 787.2,1007.45 789.0,1008.09 790.7,1008.70 792.5,1009.28 794.3,1009.86 796.1,1010.44 797.9,1011.02 799.7,1011.61 801.5,1012.22 803.3,1012.85 805.1,1013.48 806.8,1014.10 808.6,1014.72 810.4,1015.32 812.2,1015.90 814.0,1016.44 815.8,1016.95 817.6,1017.44 819.3,1017.90 821.1,1018.35 822.9,1018.79 824.7,1019.21 826.5,1019.61 828.2,1020.00 829.8,1020.34 831.4,1020.65 833.0,1020.94 834.6,1021.22 836.2,1021.51 837.8,1021.80 839.4,1022.11 841.0,1022.46 842.8,1022.87 844.5,1023.32 846.3,1023.80 848.1,1024.29 849.9,1024.78 851.7,1025.25 853.5,1025.70 855.3,1026.10 857.1,1026.45 858.9,1026.75 860.7,1027.03 862.5,1027.29 864.2,1027.55 866.0,1027.82 867.8,1028.13 869.6,1028.47 871.4,1028.88 873.2,1029.33 874.9,1029.80 876.7,1030.30 878.5,1030.79 880.2,1031.27 882.0,1031.71 883.8,1032.12 885.6,1032.47 887.3,1032.80 889.1,1033.09 890.9,1033.38 892.7,1033.65 894.4,1033.92 896.2,1034.20 898.0,1034.49 899.8,1034.80 901.6,1035.10 903.4,1035.41 905.1,1035.72 906.9,1036.03 908.7,1036.34 910.5,1036.65 912.3,1036.95 914.1,1037.25 915.9,1037.55 917.7,1037.84 919.5,1038.14 921.2,1038.43 923.0,1038.72 924.8,1039.02 926.6,1039.32 928.4,1039.62 930.2,1039.93 932.0,1040.24 933.8,1040.54 935.5,1040.85 937.3,1041.16 939.1,1041.47 940.8,1041.78 942.4,1042.08 944.0,1042.37 945.6,1042.67 947.2,1042.97 948.7,1043.27 950.3,1043.57 951.9,1043.86 953.6,1044.15 955.5,1044.48 957.4,1044.81 959.3,1045.14 961.2,1045.47 963.2,1045.78 965.2,1046.08 967.2,1046.36 969.3,1046.61 971.7,1046.84 974.2,1047.01 976.8,1047.15 979.4,1047.28 982.0,1047.40 984.6,1047.55 987.0,1047.73 989.3,1047.97 991.0,1048.21 992.7,1048.49 994.2,1048.80 995.8,1049.11 997.3,1049.43 998.8,1049.74 1000.4,1050.02 1002.0,1050.25 1003.7,1050.46 1005.5,1050.64 1007.3,1050.79 1009.1,1050.93 1010.9,1051.05 1012.7,1051.17 1014.5,1051.30 1016.3,1051.44 1018.1,1051.58 1019.9,1051.71 1021.7,1051.83 1023.5,1051.96 1025.2,1052.09 1027.0,1052.24 1028.8,1052.42 1030.6,1052.63 1032.4,1052.88 1034.1,1053.18 1035.9,1053.51 1037.7,1053.86 1039.4,1054.20 1041.2,1054.53 1043.0,1054.83 1044.8,1055.08 1046.7,1055.30 1048.7,1055.48 1050.7,1055.63 1052.7,1055.76 1054.7,1055.88 1056.7,1056.00 1058.6,1056.13 1060.5,1056.27 1062.2,1056.43 1063.8,1056.62 1065.3,1056.82 1066.9,1057.02 1068.5,1057.20 1070.0,1057.34 1071.6,1057.43 1073.3,1057.46 1075.2,1057.38 1077.1,1057.20 1079.1,1056.95 1081.1,1056.66 1083.2,1056.36 1085.1,1056.09 1087.1,1055.88 1089.0,1055.76 1090.7,1055.73 1092.3,1055.74 1093.9,1055.79 1095.4,1055.86 1097.0,1055.95 1098.6,1056.06 1100.2,1056.17 1101.8,1056.27 1103.5,1056.39 1105.2,1056.55 1106.9,1056.71 1108.7,1056.89 1110.4,1057.06 1112.2,1057.22 1114.1,1057.36 1116.0,1057.46 1118.5,1057.53 1121.1,1057.57 1123.7,1057.58 1126.5,1057.56 1129.2,1057.53 1132.0,1057.50 1134.8,1057.47 1137.5,1057.46" fill="none" stroke="#ed3c3c" stroke-width="8" stroke-linecap="round" stroke-linejoin="round" stroke-dasharray="0.01 14"/>
<path d="M1173.0,1067.80 1176.4,1067.79 1179.7,1067.78 1183.0,1067.77 1186.3,1067.75 1189.6,1067.74 1193.0,1067.75 1196.5,1067.76 1200.0,1067.80 1204.1,1067.83 1208.4,1067.83 1212.8,1067.83 1217.3,1067.85 1221.7,1067.92 1226.0,1068.06 1230.1,1068.29 1234.0,1068.64 1236.8,1069.04 1239.4,1069.54 1241.9,1070.11 1244.3,1070.72 1246.8,1071.34 1249.3,1071.92 1252.0,1072.45 1255.0,1072.88 1259.6,1073.35 1264.2,1073.70 1269.0,1073.95 1274.2,1074.13 1279.8,1074.26 1285.8,1074.36 1292.6,1074.46 1300.0,1074.58 1323.2,1074.93 1354.4,1075.33 1390.7,1075.68 1428.9,1075.90 1466.0,1075.89 1498.9,1075.59 1524.6,1074.90 1540.0,1073.73 1541.6,1073.41 1542.8,1073.03 1543.8,1072.62 1544.6,1072.20 1545.4,1071.82 1546.2,1071.50 1547.0,1071.28 1548.0,1071.19 1549.3,1071.28 1550.4,1071.56 1551.6,1071.99 1552.8,1072.51 1554.2,1073.08 1555.8,1073.64 1557.7,1074.16 1560.0,1074.58 1575.1,1075.79 1597.7,1076.46 1626.0,1076.70 1658.6,1076.64 1693.9,1076.40 1730.2,1076.10 1766.1,1075.88 1800.0,1075.85 1838.5,1075.96 1878.2,1076.03 1918.9,1076.09 1960.3,1076.13 2002.2,1076.16 2044.1,1076.19 2085.8,1076.23 2127.0,1076.27" fill="none" stroke="#ed3c3c" stroke-width="8" stroke-linecap="round" stroke-linejoin="round" stroke-dasharray="0.01 14"/>
<path d="M237.7,982.88 241.8,982.12 245.9,981.41 250.0,980.72 254.1,980.03 258.2,979.29 262.4,978.46 266.5,977.53 270.7,976.44 275.4,975.04 280.1,973.47 284.8,971.77 289.6,969.96 294.4,968.09 299.2,966.19 303.9,964.30 308.7,962.46 313.5,960.65 318.4,958.86 323.4,957.07 328.3,955.25 333.2,953.40 337.9,951.50 342.4,949.52 346.7,947.46 350.2,945.59 353.6,943.67 356.9,941.69 360.1,939.67 363.2,937.62 366.2,935.55 369.1,933.46 372.0,931.36 374.6,929.40 377.2,927.43 379.7,925.43 382.1,923.41 384.5,921.38 386.8,919.34 388.9,917.30 391.0,915.25 392.7,913.50 394.2,911.81 395.7,910.14 397.1,908.45 398.5,906.70 399.9,904.84 401.3,902.85 402.7,900.68 404.9,897.15 407.2,893.26 409.5,889.07 411.8,884.67 414.1,880.13 416.3,875.51 418.4,870.89 420.4,866.36 422.3,861.69 424.0,856.98 425.7,852.20 427.2,847.38 428.7,842.52 430.2,837.62 431.6,832.68 433.0,827.71 434.5,822.37 435.9,816.82 437.3,811.17 438.6,805.51 439.9,799.94 441.1,794.56 442.2,789.46 443.2,784.75 443.8,781.67 444.4,778.81 445.0,776.10 445.5,773.49 446.0,770.90 446.4,768.28 446.9,765.58 447.3,762.71 447.8,759.23 448.2,755.64 448.7,751.96 449.1,748.22 449.5,744.45 449.9,740.68 450.3,736.92 450.7,733.22 451.1,729.59 451.6,725.96 452.0,722.33 452.4,718.71 452.9,715.10 453.3,711.48 453.7,707.86 454.1,704.24 454.5,700.62 454.9,696.99 455.2,693.37 455.6,689.75 455.9,686.12 456.3,682.50 456.6,678.88 457.0,675.25 457.4,671.63 457.7,668.01 458.1,664.39 458.4,660.76 458.8,657.14 459.1,653.52 459.5,649.89 459.8,646.27 460.1,642.65 460.4,639.03 460.7,635.40 461.0,631.78 461.3,628.16 461.6,624.54 461.8,620.91 462.1,617.29 462.3,613.67 462.6,610.04 462.8,606.42 463.0,602.80 463.2,599.18 463.4,595.55 463.6,591.93 463.8,588.31 464.0,584.67 464.1,581.02 464.2,577.35 464.3,573.69 464.4,570.05 464.5,566.43 464.6,562.85 464.8,559.32 465.0,556.11 465.2,553.00 465.5,549.95 465.8,546.91 466.1,543.83 466.3,540.67 466.6,537.38 466.8,533.90 467.0,529.19 467.3,524.30 467.4,519.23 467.6,514.01 467.8,508.62 467.9,503.07 468.1,497.37 468.2,491.53 468.4,483.86 468.5,475.87 468.6,467.60 468.8,459.09 468.9,450.40 469.0,441.58 469.1,432.67 469.2,423.73 469.3,413.52 469.4,402.96 469.6,392.18 469.7,381.29 469.8,370.41 469.9,359.65 470.1,349.14 470.2,338.98 470.3,329.42 470.5,318.78 470.7,307.78 470.8,297.16 471.0,287.63 471.2,279.92 471.3,274.76 471.5,272.88 471.7,274.76 471.9,279.92 472.1,287.63 472.3,297.16 472.5,307.78 472.7,318.78 472.9,329.42 473.0,338.98 473.1,349.14 473.2,359.65 473.3,370.41 473.4,381.29 473.4,392.18 473.5,402.96 473.5,413.52 473.6,423.73 473.7,432.67 473.7,441.58 473.8,450.40 473.8,459.09 473.9,467.60 474.0,475.87 474.1,483.86 474.2,491.53 474.3,497.37 474.4,503.07 474.5,508.62 474.6,514.01 474.7,519.23 474.9,524.30 475.0,529.19 475.2,533.90 475.3,537.37 475.5,540.67 475.6,543.83 475.8,546.91 476.0,549.95 476.2,553.00 476.4,556.11 476.6,559.32 476.9,562.86 477.2,566.44 477.5,570.05 477.8,573.70 478.1,577.36 478.5,581.02 478.8,584.67 479.2,588.31 479.6,591.93 480.0,595.55 480.5,599.17 480.9,602.80 481.4,606.42 481.8,610.04 482.2,613.66 482.6,617.29 482.9,620.91 483.2,624.53 483.4,628.16 483.7,631.78 483.9,635.41 484.2,639.03 484.5,642.65 484.9,646.27 485.4,649.90 485.9,653.52 486.4,657.15 487.0,660.77 487.6,664.39 488.2,668.01 488.8,671.63 489.4,675.25 490.0,678.92 490.5,682.64 491.1,686.39 491.6,690.12 492.2,693.81 492.8,697.41 493.4,700.90 494.0,704.24 494.5,706.90 495.0,709.54 495.4,712.13 495.9,714.65 496.5,717.08 497.1,719.39 497.8,721.56 498.6,723.56 499.3,725.03 500.1,726.58 500.9,728.12 501.8,729.56 502.7,730.82 503.6,731.81 504.4,732.44 505.2,732.63 506.0,732.25 506.8,731.33 507.5,729.96 508.2,728.27 508.9,726.35 509.5,724.32 510.1,722.28 510.6,720.34 511.2,717.60 511.6,714.63 511.9,711.47 512.1,708.17 512.3,704.79 512.4,701.36 512.6,697.94 512.8,694.58 513.1,690.99 513.3,687.30 513.5,683.56 513.7,679.80 514.0,676.07 514.3,672.44 514.6,668.93 515.1,665.59 515.5,662.78 515.9,659.72 516.4,656.62 516.9,653.63 517.4,650.96 518.0,648.78 518.8,647.27 519.6,646.61 520.3,646.71 521.0,647.20 521.8,647.99 522.7,649.02 523.5,650.21 524.3,651.49 525.1,652.77 525.9,653.98 526.9,655.68 527.8,657.55 528.7,659.55 529.5,661.66 530.3,663.83 531.2,666.04 532.0,668.25 532.8,670.42 533.7,672.74 534.5,675.08 535.4,677.45 536.2,679.84 537.1,682.26 537.9,684.72 538.7,687.21 539.6,689.75 540.6,692.63 541.6,695.59 542.6,698.60 543.6,701.64 544.7,704.71 545.7,707.79 546.7,710.85 547.6,713.90 548.5,716.91 549.4,719.91 550.3,722.92 551.2,725.92 552.0,728.94 552.8,731.96 553.6,735.00 554.4,738.05 555.1,741.19 555.8,744.38 556.5,747.60 557.1,750.81 557.8,754.02 558.4,757.18 559.0,760.28 559.7,763.31 560.3,765.91 560.9,768.40 561.5,770.83 562.1,773.24 562.7,775.67 563.4,778.15 564.0,780.74 564.7,783.47 565.6,787.14 566.5,791.00 567.4,795.00 568.4,799.11 569.4,803.27 570.4,807.45 571.3,811.60 572.3,815.68 573.2,819.70 574.2,823.73 575.1,827.75 576.1,831.78 577.0,835.81 578.0,839.83 578.9,843.86 579.9,847.88 580.8,851.90 581.8,855.92 582.7,859.93 583.7,863.94 584.6,867.96 585.6,871.99 586.5,876.03 587.5,880.08 588.5,884.24 589.4,888.40 590.4,892.58 591.4,896.77 592.3,900.96 593.4,905.16 594.4,909.36 595.5,913.56 596.7,917.85 597.9,922.17 599.2,926.51 600.5,930.85 601.8,935.17 603.1,939.45 604.4,943.70 605.6,947.88 606.7,951.76 607.8,955.64 608.9,959.49 609.9,963.30 611.0,967.07 612.1,970.77 613.3,974.41 614.5,977.97 615.7,981.09 616.8,984.14 618.1,987.14 619.3,990.09 620.6,993.00 621.9,995.88 623.2,998.75 624.6,1001.61 625.9,1004.38 627.3,1007.14 628.7,1009.89 630.1,1012.61 631.5,1015.29 632.9,1017.94 634.5,1020.53 636.0,1023.05 637.5,1025.36 638.9,1027.64 640.4,1029.90 642.0,1032.11 643.6,1034.26 645.2,1036.34 646.9,1038.35 648.7,1040.25 650.4,1041.95 652.2,1043.59 654.1,1045.17 656.0,1046.68 657.9,1048.13 659.9,1049.50 661.9,1050.81 663.9,1052.03 665.8,1053.13 667.8,1054.16 669.8,1055.12 671.8,1056.03 673.9,1056.87 676.0,1057.64 678.1,1058.35 680.3,1058.98 682.5,1059.54 684.6,1060.00 686.8,1060.38 689.0,1060.69 691.3,1060.95 693.7,1061.20 696.4,1061.44 699.3,1061.69 705.4,1062.14 712.7,1062.52 720.7,1062.84 729.1,1063.11 737.6,1063.34 745.8,1063.52 753.4,1063.68 760.0,1063.81 763.6,1063.87 766.8,1063.89 769.8,1063.89 772.6,1063.88 775.5,1063.87 778.5,1063.87 781.8,1063.91 785.5,1063.98 792.6,1064.21 800.6,1064.54 809.2,1064.94 818.3,1065.39 827.8,1065.86 837.4,1066.32 847.1,1066.75 856.7,1067.12 867.7,1067.47 879.3,1067.78 891.2,1068.05 903.2,1068.32 915.1,1068.58 926.7,1068.86 937.7,1069.15 947.9,1069.49 955.0,1069.78 961.6,1070.10 967.9,1070.43 974.1,1070.77 980.1,1071.10 986.3,1071.41 992.6,1071.70 999.2,1071.95 1007.4,1072.16 1016.3,1072.29 1025.6,1072.38 1034.9,1072.45 1043.8,1072.53 1052.0,1072.65 1059.2,1072.84 1064.8,1073.14 1066.7,1073.28 1068.3,1073.44 1069.7,1073.60 1071.0,1073.77 1072.3,1073.95 1073.5,1074.14 1074.7,1074.35 1076.0,1074.58 1077.3,1074.83 1078.5,1075.12 1079.7,1075.43 1080.9,1075.75 1082.1,1076.06 1083.3,1076.35 1084.6,1076.59 1086.0,1076.78 1087.8,1076.97 1089.8,1077.14 1091.8,1077.28 1094.0,1077.36 1096.1,1077.37 1098.1,1077.29 1100.1,1077.10 1102.0,1076.78 1103.6,1076.31 1105.1,1075.65 1106.5,1074.88 1107.8,1074.03 1109.2,1073.19 1110.7,1072.39 1112.3,1071.70 1114.0,1071.19 1116.5,1070.76 1119.3,1070.53 1122.2,1070.45 1125.2,1070.49 1128.3,1070.58 1131.4,1070.69 1134.5,1070.76 1137.5,1070.76" fill="none" stroke="#1b6fe0" stroke-width="8.5" stroke-linecap="round" stroke-linejoin="round"/>
<path d="M1173.3,1076.27 1176.0,1076.22 1178.7,1076.17 1181.5,1076.11 1184.2,1076.06 1186.9,1076.01 1189.6,1075.95 1192.3,1075.90 1195.0,1075.85 1197.6,1075.77 1200.2,1075.66 1202.8,1075.54 1205.3,1075.43 1207.9,1075.34 1210.3,1075.30 1212.7,1075.32 1215.0,1075.42 1216.8,1075.58 1218.5,1075.79 1220.1,1076.03 1221.7,1076.31 1223.3,1076.61 1224.9,1076.92 1226.4,1077.24 1228.0,1077.54 1229.5,1077.85 1230.8,1078.18 1232.1,1078.52 1233.4,1078.87 1234.8,1079.22 1236.3,1079.54 1238.0,1079.83 1240.0,1080.08 1244.9,1080.48 1250.5,1080.70 1256.8,1080.78 1263.8,1080.76 1271.6,1080.69 1280.2,1080.59 1289.6,1080.52 1300.0,1080.51 1333.0,1080.56 1374.9,1080.55 1423.5,1080.49 1477.1,1080.41 1533.5,1080.31 1590.8,1080.21 1647.0,1080.13 1700.0,1080.08 1752.7,1080.06 1805.8,1080.05 1859.1,1080.05 1912.6,1080.06 1966.3,1080.07 2019.9,1080.07 2073.5,1080.08 2127.0,1080.08" fill="none" stroke="#1b6fe0" stroke-width="8.5" stroke-linecap="round" stroke-linejoin="round"/>
<path d="M239.0,982.37 240.5,982.03 M273.1,974.17 274.5,973.73 275.9,973.26 M307.4,960.52 308.7,959.83 310.0,959.11 M337.2,940.35 338.4,939.41 339.6,938.46 M364.9,913.74 365.8,912.54 366.7,911.31 M383.8,879.51 384.4,878.14 385.0,876.75 M397.2,838.73 397.6,837.29 398.0,835.85 M406.9,800.20 407.2,798.73 407.5,797.26 M413.4,758.86 413.6,757.37 413.8,755.89 M418.1,717.34 418.2,715.85 418.3,714.35 M421.5,674.80 421.6,673.31 421.7,671.81 M423.8,633.79 423.9,632.29 424.0,630.79 M425.5,590.74 425.6,589.24 425.7,587.74 M427.4,540.82 427.5,539.32 427.6,537.82 M429.5,495.57 429.6,494.07 429.7,492.57 M431.2,453.28 431.3,451.78 431.4,450.28 M433.5,411.67 433.6,410.17 433.7,408.67 M435.2,368.62 435.3,367.12 435.4,365.62 M436.9,326.33 437.0,324.83 437.1,323.33 M439.8,284.03 440.0,282.54 440.2,281.06 M448.7,254.99 448.9,255.52 449.2,256.39 449.5,257.44 449.6,257.85 M452.4,300.71 452.5,302.20 452.6,303.70 M455.9,343.08 456.0,344.58 456.1,346.07 M458.4,384.60 458.5,386.10 458.6,387.60 M461.0,426.89 461.1,428.39 461.2,429.89 M464.5,469.27 464.6,470.76 464.7,472.26 M467.0,511.55 467.1,513.05 467.2,514.55 M470.5,553.84 470.6,555.34 470.7,556.83 M473.9,595.54 474.0,597.03 474.1,598.53 M478.4,640.88 478.6,642.37 478.8,643.86 M483.5,686.31 483.7,687.80 483.9,689.29 M488.7,727.84 488.9,729.32 489.1,730.80 M496.6,769.29 496.9,770.76 497.2,772.23 M505.0,810.15 505.3,811.61 505.6,813.07 M515.0,850.93 515.4,852.37 515.8,853.81 M528.7,890.73 529.3,892.12 529.9,893.51 M546.3,928.36 547.0,929.66 547.8,930.95 M571.5,963.94 572.5,965.08 573.5,966.22 M600.8,993.16 602.0,994.07 603.2,994.93 M641.6,1015.48 643.0,1016.10 644.4,1016.72 M682.1,1031.17 683.5,1031.61 684.9,1032.03 M724.5,1040.80 726.0,1041.10 727.5,1041.40 M766.9,1048.76 768.4,1048.98 769.9,1049.19 M811.1,1053.66 812.6,1053.81 814.1,1053.97 M856.7,1058.50 858.2,1058.64 859.7,1058.78 M900.8,1062.19 902.3,1062.29 903.8,1062.37 M943.5,1063.91 945.0,1063.98 946.5,1064.07 M987.8,1067.04 989.3,1067.12 990.8,1067.19 M1033.4,1068.27 1034.9,1068.31 1036.4,1068.35 M1076.1,1069.45 1077.6,1069.49 1079.1,1069.53 M1120.3,1070.72 1121.8,1070.76 1123.3,1070.81" fill="none" stroke="#34a864" stroke-width="8.6" stroke-linecap="round" stroke-linejoin="round"/>
<path d="M1173.0,1077.12 1176.9,1077.28 1180.6,1077.45 1184.3,1077.62 1187.9,1077.79 1191.8,1077.96 1195.8,1078.11 1200.2,1078.26 1205.0,1078.39 1214.0,1078.58 1223.7,1078.73 1234.0,1078.84 1245.3,1078.94 1257.4,1079.01 1270.5,1079.09 1284.6,1079.16 1300.0,1079.24 1336.7,1079.41 1380.3,1079.55 1429.2,1079.68 1481.9,1079.79 1536.9,1079.88 1592.6,1079.96 1647.5,1080.03 1700.0,1080.08 1752.7,1080.13 1805.8,1080.15 1859.1,1080.15 1912.6,1080.14 1966.3,1080.12 2019.9,1080.11 2073.5,1080.09 2127.0,1080.08" fill="none" stroke="#34a864" stroke-width="8.6" stroke-linecap="round" stroke-linejoin="round" stroke-dasharray="3 40"/>
<path d="M241.7,987.76 242.2,987.70 244.4,987.45 246.6,987.20 248.9,986.95 251.1,986.70 253.4,986.44 255.6,986.18 257.8,985.90 260.0,985.62 260.3,985.57 M285.6,981.01 287.1,980.76 288.6,980.53 M313.5,977.18 315.0,976.95 316.5,976.70 M344.3,971.52 345.4,971.35 348.1,970.98 350.8,970.63 353.5,970.28 356.2,969.94 358.9,969.60 361.7,969.26 364.3,968.93 367.0,968.59 368.0,968.44 M393.9,964.38 395.4,964.07 396.9,963.73 M421.0,956.86 422.4,956.46 423.9,956.08 M453.1,947.32 454.1,946.81 455.1,946.23 456.0,945.66 457.0,945.12 457.9,944.61 458.9,944.16 459.9,943.76 460.9,943.45 462.0,943.22 463.1,943.12 464.2,943.15 465.4,943.29 466.5,943.51 467.6,943.78 468.8,944.06 470.0,944.35 471.2,944.59 472.0,944.72 M496.5,932.68 497.7,931.78 498.9,930.85 M516.8,913.41 518.0,912.46 519.2,911.56 M542.5,895.91 543.0,895.50 544.6,893.89 546.3,892.22 547.9,890.52 549.5,888.78 551.1,887.02 552.7,885.24 554.2,883.46 555.6,881.67 556.0,881.25 M571.6,858.89 572.4,857.63 573.2,856.35 M586.8,833.23 587.6,831.95 588.4,830.68 M602.6,808.14 602.9,807.56 604.0,805.40 605.0,803.20 606.0,800.97 607.0,798.73 607.9,796.50 608.9,794.28 609.8,792.10 610.6,789.98 610.7,789.66 M618.5,766.69 619.1,764.80 619.6,762.59 620.2,760.33 620.8,758.01 621.3,755.67 621.9,753.30 622.4,750.93 623.0,748.56 623.5,746.20 623.7,745.51 M629.6,719.48 629.9,718.01 630.2,716.53 M633.6,691.06 633.8,689.58 634.0,688.09 M638.2,661.46 638.3,660.73 638.6,658.33 638.9,655.90 639.2,653.45 639.6,650.99 639.9,648.53 640.2,646.08 640.5,643.63 640.8,641.20 640.9,640.41 M644.2,612.17 644.3,610.68 644.4,609.18 M646.1,584.04 646.2,582.54 646.3,581.05 M647.9,553.54 648.0,552.82 648.0,550.42 648.1,547.99 648.1,545.55 648.2,543.11 648.2,540.65 648.2,538.20 648.3,535.77 648.3,533.34 648.3,532.56 M649.2,503.53 649.3,502.03 649.4,500.54 M650.7,474.55 650.8,473.05 650.9,471.55 M651.9,442.80 652.0,439.02 652.1,435.22 652.2,431.53 652.3,427.97 652.4,424.97 652.4,423.11 M652.9,395.65 652.9,394.15 652.9,392.65 M653.7,366.67 653.7,365.17 653.7,363.67 M654.3,337.93 654.3,336.40 654.4,333.80 654.5,331.36 654.6,329.69 654.7,328.11 654.8,326.60 654.8,325.14 654.9,323.73 655.0,322.34 655.1,320.96 655.2,319.56 655.3,318.14 655.4,316.68 655.5,315.16 655.6,313.56 655.6,313.35 M656.6,287.77 656.6,286.27 656.6,284.77 M657.3,258.79 657.3,257.29 657.3,255.79 M658.2,229.14 658.3,228.47 658.4,225.84 658.6,223.13 658.8,220.41 659.0,217.78 659.2,215.31 659.4,213.10 659.5,212.28 M667.0,241.31 667.2,242.80 667.4,244.29 M669.9,270.29 670.0,271.78 670.1,273.27 M672.3,298.74 672.3,299.15 672.4,301.10 672.6,303.00 672.7,304.87 672.8,306.72 673.0,308.56 673.1,310.38 673.2,312.21 673.3,314.05 673.4,315.91 673.5,317.80 673.7,319.72 673.8,321.69 673.8,322.32 M675.6,349.18 675.7,350.68 675.8,352.17 M678.4,378.17 678.6,379.66 678.8,381.15 M681.4,405.22 681.4,405.42 681.6,407.34 681.9,409.23 682.1,411.09 682.3,412.92 682.6,414.75 682.8,416.57 683.1,418.41 683.3,420.25 683.6,422.12 683.8,424.03 684.1,425.97 684.3,427.97 684.6,430.37 684.7,431.42 M687.4,457.07 687.6,458.56 687.8,460.05 M690.2,485.08 690.3,485.93 690.5,487.48 690.7,489.02 690.8,490.56 691.0,492.12 691.2,493.69 691.4,495.30 691.5,496.95 691.7,498.65 691.9,500.42 692.1,502.78 692.2,503.78 M694.4,530.29 694.6,531.78 694.8,533.27 M698.0,558.51 698.2,560.00 698.4,561.49 M702.1,590.49 702.1,591.08 702.5,593.38 702.8,595.69 703.1,597.99 703.5,600.30 703.8,602.60 704.2,604.89 704.5,607.17 704.9,609.43 705.0,609.95 M709.6,636.57 709.8,638.05 710.0,639.53 M714.1,665.56 714.4,667.03 714.7,668.51 M720.0,696.73 720.1,697.16 720.5,699.35 720.9,701.55 721.3,703.74 721.8,705.94 722.2,708.13 722.6,710.32 723.0,712.52 723.4,714.70 723.5,715.15 M729.7,743.37 730.0,744.83 730.3,746.29 M736.0,770.75 736.4,772.20 736.8,773.66 M743.6,800.22 743.9,801.07 744.5,803.50 745.1,805.95 745.8,808.41 746.5,810.89 747.1,813.36 747.8,815.82 748.5,818.26 749.2,820.67 749.5,821.51 M758.0,847.30 758.5,848.73 759.0,850.16 M766.5,874.68 767.0,876.10 767.5,877.52 M777.0,903.16 777.1,903.48 777.9,905.54 778.6,907.62 779.4,909.69 780.1,911.77 780.9,913.83 781.7,915.88 782.5,917.90 783.3,919.88 784.1,921.83 784.9,923.48 M800.2,946.78 800.6,947.06 801.5,947.56 802.4,948.03 802.8,948.25 M822.3,945.74 822.6,945.47 823.4,944.74 824.2,943.99 824.5,943.71 M837.2,925.37 837.7,924.87 838.6,923.91 839.4,922.98 840.3,922.07 841.2,921.18 842.1,920.33 843.1,919.52 844.0,918.74 845.0,918.01 845.9,917.32 847.0,916.69 848.0,916.10 849.0,915.60 850.0,915.13 851.1,914.69 852.2,914.29 853.3,913.92 854.4,913.59 855.5,913.30 856.6,913.05 857.7,912.85 858.8,912.70 859.0,912.68 M884.0,922.45 884.1,922.52 885.2,923.39 886.4,924.35 M905.5,942.96 906.6,943.98 907.7,944.99 M922.5,957.39 922.8,957.65 924.6,959.16 926.4,960.72 928.3,962.31 930.3,963.91 932.2,965.51 934.2,967.09 936.2,968.63 938.2,970.12 938.9,970.61 M963.7,984.31 965.0,985.00 966.3,985.70 M989.3,997.68 990.7,998.31 992.1,998.91 M1020.1,1009.20 1021.0,1009.48 1023.3,1010.21 1025.7,1010.93 1028.2,1011.64 1030.6,1012.34 1033.0,1013.03 1035.4,1013.72 1037.8,1014.40 1040.2,1015.08 1041.0,1015.31 M1067.5,1023.37 1069.0,1023.73 1070.5,1024.05 M1096.0,1028.25 1097.5,1028.47 1099.0,1028.71 M1125.8,1032.72 1126.0,1032.75 1127.3,1032.95 1128.6,1033.14 1129.9,1033.34 1131.1,1033.53 1132.4,1033.72 1133.5,1033.89" fill="none" stroke="#b07ae0" stroke-width="10" stroke-linecap="round" stroke-linejoin="round"/>
<path d="M1173.3,1059.15 1176.6,1059.15 1179.9,1059.15 1183.2,1059.15 1186.4,1059.14 1189.8,1059.14 1193.1,1059.14 1196.5,1059.15 1200.0,1059.15 1204.1,1059.14 1208.4,1059.08 1212.7,1059.01 1217.2,1058.96 1221.6,1058.94 1225.9,1058.97 1230.0,1059.09 1234.0,1059.32 1237.2,1059.57 1240.3,1059.83 1243.3,1060.13 1246.3,1060.49 1249.1,1060.91 1251.9,1061.41 1254.5,1062.00 1257.0,1062.71 1258.9,1063.43 1260.6,1064.29 1262.2,1065.24 1263.8,1066.23 1265.3,1067.21 1266.8,1068.11 1268.4,1068.89 1270.0,1069.49 1271.4,1069.86 1272.8,1070.13 1274.2,1070.32 1275.6,1070.45 1277.0,1070.54 1278.5,1070.61 1280.0,1070.67 1281.6,1070.76 1283.6,1070.88 1285.7,1070.98 1287.9,1071.05 1290.1,1071.11 1292.4,1071.14 1294.8,1071.17 1297.3,1071.18 1300.0,1071.19 1304.5,1071.16 1309.6,1071.08 1315.0,1070.96 1320.7,1070.81 1326.4,1070.66 1331.9,1070.52 1337.2,1070.41 1342.0,1070.34 1345.3,1070.31 1348.4,1070.28 1351.4,1070.27 1354.2,1070.26 1357.1,1070.26 1360.0,1070.28 1362.9,1070.30 1366.0,1070.34 1369.6,1070.40 1373.3,1070.49 1377.1,1070.59 1381.0,1070.70 1384.8,1070.82 1388.6,1070.95 1392.4,1071.07 1396.0,1071.19 1399.2,1071.29 1402.3,1071.40 1405.3,1071.52 1408.3,1071.63 1411.3,1071.75 1414.4,1071.85 1417.6,1071.95 1421.0,1072.03 1425.4,1072.13 1429.8,1072.21 1434.4,1072.29 1439.1,1072.36 1444.0,1072.41 1449.1,1072.44 1454.4,1072.46 1460.0,1072.46 1469.0,1072.45 1479.3,1072.44 1490.3,1072.41 1501.6,1072.34 1512.7,1072.21 1523.1,1071.99 1532.4,1071.65 1540.0,1071.19 1543.2,1070.88 1546.0,1070.50 1548.6,1070.09 1551.0,1069.67 1553.3,1069.25 1555.5,1068.85 1557.7,1068.50 1560.0,1068.22 1562.0,1068.02 1563.9,1067.85 1565.8,1067.69 1567.6,1067.57 1569.5,1067.47 1571.3,1067.40 1573.1,1067.37 1575.0,1067.37 1576.9,1067.42 1578.7,1067.51 1580.5,1067.64 1582.4,1067.80 1584.2,1067.99 1586.1,1068.19 1588.0,1068.41 1590.0,1068.64 1592.3,1068.95 1594.5,1069.30 1596.7,1069.69 1598.9,1070.11 1601.3,1070.52 1603.9,1070.92 1606.8,1071.29 1610.0,1071.61 1617.9,1072.15 1627.1,1072.55 1637.4,1072.85 1648.7,1073.07 1660.8,1073.24 1673.5,1073.39 1686.6,1073.54 1700.0,1073.73 1721.1,1074.03 1744.2,1074.30 1768.7,1074.53 1794.3,1074.74 1820.6,1074.93 1847.3,1075.10 1873.9,1075.27 1900.0,1075.42 1927.6,1075.58 1955.5,1075.70 1983.7,1075.81 2012.1,1075.91 2040.6,1076.00 2069.2,1076.08 2097.7,1076.17 2126.0,1076.27" fill="none" stroke="#b07ae0" stroke-width="10" stroke-linecap="round" stroke-linejoin="round" stroke-dasharray="22 28 0.01 28 0.01 28" stroke-dashoffset="-33"/></g>
<g transform="scale(1,1.18)"><path d="M313.9,2333.50 315.7,2333.56 M344.6,2334.83 347.3,2334.95 350.3,2335.08 353.1,2335.21 355.9,2335.34 357.9,2335.44 M378.1,2336.34 380.0,2336.39 382.7,2336.44 385.3,2336.47 387.1,2336.48 M409.7,2336.17 411.5,2336.14 414.1,2336.10 416.8,2336.06 418.7,2336.03 M441.8,2335.64 443.8,2335.62 446.5,2335.59 449.2,2335.58 451.1,2335.57 M474.2,2335.62 476.1,2335.61 478.8,2335.59 481.5,2335.57 484.2,2335.53 486.2,2335.51 M506.5,2335.12 508.5,2335.07 511.2,2335.00 513.9,2334.92 515.8,2334.86 M538.9,2334.00 540.8,2333.95 543.5,2333.90 546.3,2333.86 549.0,2333.83 551.1,2333.82 M568.9,2333.88 570.8,2333.89 573.4,2333.89 575.9,2333.90 578.0,2333.90 580.0,2333.91 582.0,2333.93 582.4,2333.93 M602.9,2333.78 604.5,2333.71 607.0,2333.59 609.6,2333.44 611.5,2333.33 M635.2,2332.08 635.6,2332.07 639.5,2331.95 643.5,2331.84 644.2,2331.82 M668.0,2331.35 668.8,2331.34 672.9,2331.28 673.5,2331.27 M684.3,2331.16 687.5,2331.14 690.8,2331.14 693.8,2331.15 M713.3,2331.21 716.0,2331.20 719.1,2331.19 721.9,2331.16 723.9,2331.14 M746.8,2330.76 748.7,2330.72 751.5,2330.68 754.2,2330.63 756.6,2330.60 M777.9,2330.27 779.8,2330.22 782.4,2330.16 784.8,2330.08 786.5,2330.03 788.1,2329.99 789.6,2329.96 790.7,2329.93 M812.1,2327.60 812.4,2327.54 813.6,2327.25 814.8,2326.95 816.0,2326.62 817.2,2326.27 818.4,2325.87 819.6,2325.42 820.9,2324.92 821.4,2324.71 M841.3,2318.16 841.6,2318.10 842.9,2317.90 844.1,2317.71 845.3,2317.54 846.6,2317.37 847.8,2317.23 849.1,2317.10 850.3,2316.98 851.6,2316.88 851.9,2316.86 M872.9,2317.26 873.7,2317.64 874.4,2318.08 875.1,2318.58 875.9,2319.11 876.6,2319.67 877.3,2320.25 878.0,2320.82 878.7,2321.39 879.4,2321.92 880.1,2322.43 880.2,2322.46 M901.1,2328.01 901.5,2328.01 902.8,2328.00 904.1,2327.98 905.4,2327.97 907.0,2327.93 908.5,2327.85 910.0,2327.75 M934.9,2325.33 936.3,2325.20 937.9,2325.05 939.6,2324.92 941.2,2324.79 M966.9,2324.21 967.3,2324.19 969.2,2324.07 970.5,2323.95 971.8,2323.82 973.1,2323.68 973.4,2323.65 M998.4,2319.09 998.6,2319.07 999.6,2318.97 1000.6,2318.92 1001.6,2318.90 1002.6,2318.91 1003.5,2318.93 1004.5,2318.95 1005.4,2318.97 1005.9,2318.97 M1029.1,2312.67 1029.6,2312.53 1030.9,2312.21 1032.2,2311.90 1033.5,2311.59 1034.8,2311.29 1036.1,2310.99 1037.4,2310.69 1037.8,2310.58 M1058.6,2306.05 1058.6,2306.06 1059.2,2306.16 1059.7,2306.28 1060.2,2306.42 1060.8,2306.59 1061.4,2306.78 1062.0,2307.06 1062.6,2307.40 1063.3,2307.80 1063.9,2308.25 1064.5,2308.72 1064.9,2309.08 M1086.6,2314.63 1086.9,2314.64 1088.2,2314.67 1089.4,2314.68 1090.7,2314.68 1092.0,2314.68 1093.3,2314.68 1094.6,2314.69 1095.0,2314.70 M1117.3,2316.68 1118.5,2316.71 1120.0,2316.74 1121.6,2316.75 1123.3,2316.76 1124.9,2316.76 1126.5,2316.76 1127.9,2316.76" fill="none" stroke="#505050" stroke-width="7.5" stroke-linecap="round" stroke-linejoin="round"/>
<path d="M1167.3,2273.39 1168.1,2273.06 1168.8,2272.74 1169.6,2272.43 1170.3,2272.12 1171.1,2271.81 1171.9,2271.50 1172.6,2271.18 1173.4,2270.86 1174.2,2270.52 1175.0,2270.17 1175.8,2269.80 1176.6,2269.41 1177.5,2268.99 M1192.2,2261.48 1193.0,2261.21 1194.3,2260.80 1195.5,2260.43 1196.8,2260.07 1198.1,2259.72 1199.4,2259.36 1200.7,2259.00 1201.9,2258.62 1203.2,2258.22 1204.0,2257.92 M1220.9,2248.91 1221.2,2248.78 1222.5,2248.19 1223.9,2247.60 1225.2,2247.02 1226.6,2246.44 1227.9,2245.86 1229.3,2245.27 1230.6,2244.68 1231.9,2244.07 1232.2,2243.94 M1249.4,2233.77 1249.9,2233.51 1251.2,2232.92 1252.5,2232.35 1253.7,2231.79 1255.0,2231.23 1256.3,2230.66 1257.6,2230.09 1258.8,2229.49 1260.1,2228.87 1260.6,2228.59 M1276.7,2216.70 1277.0,2216.44 1277.8,2215.74 1278.5,2215.03 1279.1,2214.33 1279.8,2213.64 1280.5,2212.97 1281.1,2212.33 1281.8,2211.72 1282.5,2211.15 1283.2,2210.63 1283.9,2210.17 1284.4,2209.83 1285.0,2209.50 1285.5,2209.19 1286.1,2208.89 1286.2,2208.85 M1304.3,2211.07 1304.5,2211.02 1305.3,2210.66 1306.1,2210.21 1306.9,2209.68 1307.8,2209.07 1308.6,2208.40 1309.4,2207.67 1310.3,2206.89 1311.2,2206.07 1312.0,2205.21 1312.9,2204.34 1313.8,2203.44 1313.9,2203.36 M1326.8,2187.59 1327.8,2186.21 1329.2,2184.45 1330.6,2182.71 1332.2,2180.83 1333.7,2178.93 1334.6,2177.95 M1346.2,2164.12 1346.9,2163.30 1348.5,2161.28 1350.0,2159.24 1351.7,2157.09 1353.3,2154.92 1353.8,2154.26 M1365.2,2137.66 1365.7,2136.98 1367.1,2134.68 1368.5,2132.37 1369.9,2130.06 1371.2,2127.73 1371.6,2126.97 M1380.4,2109.52 1380.8,2108.68 1381.9,2106.29 1383.0,2103.90 1384.2,2101.53 1385.3,2099.16 1385.7,2098.28 M1393.5,2081.13 1393.9,2080.13 1394.9,2077.74 1395.8,2075.34 1396.7,2072.98 1397.5,2070.63 1397.9,2069.47 M1402.9,2052.81 1403.3,2051.65 1403.9,2049.23 1404.5,2046.78 1405.2,2044.19 1405.8,2041.59 1406.0,2040.71 M1410.1,2021.04 1410.3,2020.25 1410.8,2017.58 1411.3,2014.92 1411.8,2012.26 1412.4,2009.61 1412.5,2008.78 M1416.1,1989.21 1416.2,1988.37 1416.7,1985.71 1417.1,1983.05 1417.6,1980.40 1418.0,1977.74 1418.2,1976.89 M1421.2,1957.38 1421.3,1956.50 1421.7,1953.85 1422.0,1951.19 1422.3,1948.53 1422.6,1945.88 1422.7,1944.98 M1424.4,1925.55 1424.5,1924.64 1424.7,1921.98 1424.9,1919.32 1425.1,1916.66 1425.3,1914.00 1425.3,1913.09 M1426.5,1893.61 1426.5,1892.70 1426.7,1890.03 1426.8,1887.37 1427.0,1884.72 1427.2,1882.06 1427.2,1881.13 M1428.3,1861.75 1428.4,1860.82 1428.5,1858.16 1428.6,1855.51 1428.7,1852.84 1428.8,1850.15 1428.9,1849.26 M1429.6,1829.89 1429.6,1828.70 1429.7,1826.15 1429.8,1823.64 1429.9,1821.53 1429.9,1819.47 1430.0,1817.46 1430.0,1817.40 M1430.5,1797.88 1430.5,1796.93 1430.6,1794.31 1430.6,1791.63 1430.7,1788.91 1430.8,1786.16 1430.8,1785.38 M1431.2,1764.97 1431.2,1764.03 1431.3,1761.38 1431.4,1758.73 1431.5,1756.08 1431.6,1753.44 1431.6,1752.48 M1432.2,1732.99 1432.2,1732.20 1432.3,1729.47 1432.3,1726.74 1432.3,1724.00 1432.4,1721.26 1432.4,1720.49 M1432.7,1700.12 1432.7,1699.42 1432.8,1696.66 1432.8,1693.87 1432.9,1691.06 1433.0,1688.26 1433.0,1687.62 M1433.6,1668.65 1433.6,1667.48 1433.7,1666.15 1433.7,1664.86 1433.7,1663.62 1433.8,1662.40 1433.8,1661.20 1433.9,1660.01 1433.9,1658.81 1434.0,1657.60 1434.0,1656.36 1434.1,1656.16 M1435.5,1631.50 1435.5,1631.16 1435.7,1628.23 1435.9,1625.26 1436.1,1622.35 1436.2,1619.59 1436.3,1619.03 M1439.0,1616.36 1439.0,1616.47 1439.2,1617.23 1439.3,1617.96 1439.5,1618.64 1439.7,1619.55 1439.9,1620.49 1440.1,1621.46 1440.3,1622.46 1440.5,1623.49 1440.7,1624.54 1440.9,1625.62 1441.1,1626.72 1441.3,1627.85 1441.4,1628.62 M1443.0,1644.63 1443.1,1645.46 1443.2,1647.29 1443.4,1649.09 1443.6,1650.84 1443.8,1652.54 1444.0,1654.01 1444.2,1655.43 1444.5,1656.82 1444.5,1657.03 M1449.5,1680.20 1449.7,1681.21 1450.4,1683.73 1451.1,1686.24 1451.8,1688.71 1452.5,1691.12 1452.8,1692.23 M1462.6,1715.18 1463.0,1716.03 1463.5,1717.02 1464.0,1717.99 1464.5,1718.95 1464.9,1719.87 1465.4,1720.75 1465.9,1721.58 1466.4,1722.37 1467.0,1723.08 1467.5,1723.73 1467.9,1724.15 1468.3,1724.57 1468.7,1725.00 1469.1,1725.41 1469.3,1725.56 M1476.8,1718.35 1477.0,1717.91 1477.3,1716.95 1477.7,1715.88 1478.1,1714.76 1478.4,1713.60 1478.7,1712.41 1479.0,1711.20 1479.3,1710.00 1479.6,1708.80 1479.9,1707.62 1480.2,1706.48 1480.2,1706.36 M1488.1,1701.92 1488.1,1701.98 1488.4,1702.70 1488.6,1703.39 1488.9,1704.24 1489.1,1705.13 1489.3,1706.05 1489.5,1706.99 1489.6,1707.96 1489.8,1708.95 1489.9,1709.96 1490.1,1710.99 1490.2,1712.04 1490.3,1713.10 1490.4,1714.16 M1492.3,1733.56 1492.4,1733.94 1492.5,1735.14 1492.6,1736.32 1492.7,1737.48 1492.8,1738.63 1493.0,1739.77 1493.1,1740.92 1493.2,1742.08 1493.4,1743.26 1493.5,1744.46 1493.7,1745.68 1493.7,1745.98 M1498.0,1771.13 1498.1,1771.37 1498.5,1772.81 1499.0,1774.24 1499.4,1775.67 1499.9,1777.09 1500.4,1778.50 1500.8,1779.91 1501.3,1781.33 1501.7,1782.74 1501.8,1783.02 M1507.5,1801.48 1507.6,1801.74 1508.0,1802.88 1508.4,1804.01 1508.8,1805.13 1509.2,1806.24 1509.6,1807.33 1510.0,1808.41 1510.5,1809.48 1510.9,1810.53 1511.4,1811.56 1511.8,1812.57 1512.1,1813.07 M1523.2,1831.23 1523.6,1831.95 1524.3,1833.44 1525.1,1835.05 1525.9,1836.76 1526.7,1838.55 1527.5,1840.42 1528.2,1842.35 1528.3,1842.57 M1536.3,1862.38 1536.8,1863.65 1537.8,1866.03 1538.7,1868.43 1539.7,1870.85 1540.7,1873.27 1541.0,1873.95 M1549.7,1893.45 1550.9,1895.99 1552.2,1898.63 1553.5,1901.24 1554.8,1903.82 1555.2,1904.62 M1566.9,1922.41 1567.4,1923.02 1568.9,1924.78 1570.3,1926.55 1571.8,1928.34 1573.2,1930.17 1574.5,1932.06 1574.5,1932.14 M1582.5,1951.88 1582.6,1952.34 1583.4,1955.21 1584.1,1958.05 1584.9,1960.85 1585.7,1963.58 1585.8,1963.91 M1593.8,1983.72 1594.1,1984.25 1595.0,1986.04 1596.0,1987.79 1597.0,1989.51 1598.1,1991.19 1599.2,1992.68 1600.4,1994.09 1600.5,1994.15 M1614.8,2009.70 1615.9,2011.75 1617.0,2014.02 1617.9,2016.38 1618.9,2018.80 1619.7,2021.14 M1627.7,2040.97 1628.8,2043.32 1630.0,2045.69 1631.2,2048.05 1632.4,2050.41 1633.3,2052.08 M1642.5,2071.34 1642.9,2072.32 1644.0,2074.88 1645.1,2077.45 1646.2,2080.02 1647.3,2082.59 1647.4,2082.81 M1655.5,2102.57 1655.5,2102.58 1656.5,2104.97 1657.4,2107.37 1658.3,2109.75 1659.3,2112.13 1660.1,2114.17 M1669.3,2133.43 1669.4,2133.53 1670.7,2135.91 1672.0,2138.28 1673.4,2140.65 1674.7,2143.02 1675.4,2144.27 M1684.9,2163.41 1685.3,2164.37 1686.3,2166.75 1687.4,2169.13 1688.4,2171.51 1689.5,2173.90 1689.9,2174.82 M1699.1,2194.06 1700.4,2196.54 1701.7,2199.12 1703.0,2201.70 1704.3,2204.26 1704.8,2205.16 M1714.3,2224.25 1714.9,2225.43 1716.1,2227.66 1717.2,2229.85 1718.4,2232.02 1719.7,2234.15 1720.3,2235.15 M1733.7,2251.64 1735.3,2253.26 1737.1,2255.02 1738.8,2256.75 1740.7,2258.47 1742.5,2260.17 1742.6,2260.28 M1758.9,2273.81 1759.8,2274.46 1761.8,2275.94 1763.9,2277.39 1766.0,2278.81 1768.2,2280.25 1769.1,2280.78 M1788.7,2291.69 1789.4,2292.04 1791.8,2293.23 1794.2,2294.41 1796.6,2295.55 1799.0,2296.68 1799.8,2297.03 M1818.0,2304.60 1818.7,2304.87 1821.2,2305.76 1823.8,2306.61 1826.4,2307.43 1829.0,2308.20 1829.7,2308.39 M1849.7,2313.18 1850.3,2313.31 1853.0,2313.86 1855.7,2314.41 1858.3,2314.92 1861.0,2315.41 1861.7,2315.53 M1881.5,2318.57 1882.3,2318.68 1884.9,2319.08 1887.6,2319.49 1890.4,2319.92 1893.1,2320.36 1893.7,2320.45 M1914.6,2323.73 1915.3,2323.82 1918.0,2324.21 1920.7,2324.58 1923.3,2324.91 1925.9,2325.23 1926.8,2325.34 M1945.3,2327.36 1946.3,2327.46 1948.8,2327.75 1951.4,2328.05 1954.2,2328.37 1956.9,2328.69 1957.5,2328.76 M1978.5,2331.29 1979.1,2331.37 1981.8,2331.74 1984.5,2332.12 1987.2,2332.51 1989.9,2332.92 1990.6,2333.03 M2010.4,2336.28 2011.1,2336.40 2013.8,2336.81 2016.5,2337.20 2019.1,2337.58 2021.8,2337.94 2022.5,2338.04 M2042.3,2340.51 2043.0,2340.60 2045.7,2340.94 2048.4,2341.27 2051.2,2341.63 2054.1,2342.00 2054.5,2342.04 M2075.4,2344.67 2077.2,2344.90 2079.5,2345.18 2081.5,2345.42 2082.4,2345.53 2083.2,2345.64 2084.0,2345.73 2084.8,2345.82 2085.5,2345.90 2086.1,2345.98 2086.8,2346.05 2087.4,2346.13 2087.6,2346.14" fill="none" stroke="#505050" stroke-width="7.5" stroke-linecap="round" stroke-linejoin="round"/>
<path d="M251.3,2340.34 256.3,2340.06 261.4,2339.85 266.5,2339.68 271.6,2339.48 276.6,2339.24 281.5,2338.89 286.3,2338.39 290.8,2337.71 294.6,2336.94 298.3,2336.00 301.9,2334.94 305.4,2333.82 308.8,2332.68 312.1,2331.57 315.2,2330.55 318.1,2329.66 320.0,2329.12 321.8,2328.61 323.5,2328.13 325.2,2327.67 326.8,2327.23 328.4,2326.80 330.1,2326.37 331.7,2325.93 333.4,2325.51 335.0,2325.11 336.7,2324.72 338.3,2324.33 339.9,2323.94 341.6,2323.54 343.2,2323.14 344.9,2322.71 346.5,2322.27 348.1,2321.83 349.7,2321.37 351.4,2320.91 353.0,2320.44 354.6,2319.96 356.3,2319.47 357.9,2318.98 359.6,2318.47 361.3,2317.94 363.0,2317.41 364.7,2316.86 366.5,2316.32 368.2,2315.77 369.9,2315.21 371.5,2314.66 373.1,2314.13 374.7,2313.59 376.3,2313.05 377.8,2312.51 379.3,2311.96 380.9,2311.42 382.4,2310.88 384.0,2310.34 385.5,2309.82 387.1,2309.32 388.6,2308.83 390.2,2308.33 391.7,2307.83 393.3,2307.29 394.8,2306.72 396.3,2306.10 397.9,2305.40 399.5,2304.64 401.1,2303.85 402.7,2303.03 404.2,2302.19 405.8,2301.34 407.3,2300.49 408.8,2299.66 410.2,2298.87 411.7,2298.07 413.1,2297.28 414.5,2296.47 415.9,2295.67 417.3,2294.86 418.6,2294.04 420.0,2293.22 421.3,2292.44 422.5,2291.68 423.7,2290.94 424.9,2290.18 426.1,2289.39 427.4,2288.56 428.7,2287.67 430.2,2286.69 432.6,2285.06 435.2,2283.26 438.1,2281.33 441.0,2279.29 444.0,2277.17 446.9,2275.00 449.8,2272.80 452.5,2270.59 455.2,2268.31 457.7,2265.95 460.3,2263.52 462.8,2261.05 465.2,2258.57 467.6,2256.10 470.0,2253.66 472.4,2251.27 474.7,2249.06 477.1,2246.86 479.4,2244.66 481.7,2242.48 484.0,2240.32 486.1,2238.20 488.1,2236.11 489.8,2234.07 491.0,2232.54 492.1,2231.06 493.1,2229.60 494.0,2228.17 494.9,2226.73 495.7,2225.28 496.5,2223.80 497.3,2222.29 498.0,2220.72 498.7,2219.14 499.4,2217.53 500.0,2215.91 500.6,2214.28 501.2,2212.63 501.7,2210.98 502.3,2209.32 502.8,2207.61 503.3,2205.88 503.8,2204.13 504.2,2202.38 504.6,2200.62 505.1,2198.87 505.5,2197.14 506.0,2195.42 506.4,2193.82 506.9,2192.27 507.3,2190.75 507.8,2189.23 508.2,2187.67 508.7,2186.06 509.2,2184.36 509.7,2182.54 510.5,2179.68 511.4,2176.52 512.4,2173.14 513.4,2169.66 514.4,2166.18 515.3,2162.81 516.2,2159.64 517.1,2156.78 517.6,2154.96 518.1,2153.26 518.6,2151.65 519.0,2150.10 519.5,2148.57 519.9,2147.05 520.3,2145.50 520.8,2143.90 521.3,2142.18 521.8,2140.44 522.2,2138.69 522.7,2136.94 523.2,2135.18 523.7,2133.42 524.2,2131.66 524.6,2129.92 525.1,2128.19 525.5,2126.46 526.0,2124.74 526.5,2123.01 526.9,2121.29 527.3,2119.58 527.7,2117.88 528.1,2116.19 528.3,2114.60 528.6,2113.03 528.8,2111.47 529.0,2109.92 529.2,2108.36 529.3,2106.80 529.5,2105.23 529.7,2103.64 529.9,2101.97 530.1,2100.29 530.3,2098.60 530.5,2096.89 530.7,2095.19 530.9,2093.48 531.1,2091.78 531.4,2090.08 531.6,2088.40 531.9,2086.72 532.2,2085.05 532.5,2083.37 532.8,2081.70 533.1,2080.01 533.4,2078.32 533.6,2076.61 533.9,2074.82 534.2,2073.02 534.5,2071.21 534.8,2069.38 535.1,2067.56 535.3,2065.74 535.6,2063.92 535.9,2062.12 536.2,2060.35 536.5,2058.58 536.7,2056.81 537.0,2055.05 537.3,2053.29 537.6,2051.53 537.9,2049.79 538.2,2048.05 538.5,2046.37 538.8,2044.71 539.1,2043.05 539.4,2041.40 539.7,2039.75 540.0,2038.09 540.3,2036.43 540.6,2034.75 540.9,2033.00 541.2,2031.23 541.4,2029.46 541.7,2027.68 541.9,2025.90 542.2,2024.12 542.4,2022.35 542.6,2020.59 542.7,2018.89 542.8,2017.19 542.9,2015.50 543.0,2013.81 543.1,2012.12 543.1,2010.43 543.2,2008.74 543.4,2007.03 543.5,2005.29 543.7,2003.55 543.9,2001.80 544.1,2000.04 544.3,1998.29 544.5,1996.54 544.6,1994.79 544.8,1993.05 545.0,1991.35 545.1,1989.65 545.3,1987.95 545.5,1986.26 545.6,1984.57 545.7,1982.87 545.9,1981.18 546.0,1979.49 546.1,1977.81 546.2,1976.13 546.3,1974.45 546.4,1972.77 546.4,1971.09 546.5,1969.40 546.6,1967.71 546.7,1966.02 546.8,1964.27 546.9,1962.52 547.0,1960.76 547.2,1959.00 547.3,1957.23 547.4,1955.47 547.6,1953.71 547.7,1951.95 547.8,1950.20 547.9,1948.46 547.9,1946.72 548.0,1944.99 548.1,1943.24 548.2,1941.50 548.3,1939.74 548.4,1937.97 548.4,1936.11 548.5,1934.22 548.6,1932.33 548.7,1930.42 548.8,1928.52 548.9,1926.64 549.0,1924.79 549.1,1922.97 549.2,1921.33 549.3,1919.73 549.4,1918.16 549.5,1916.60 549.6,1915.04 549.7,1913.47 549.7,1911.88 549.8,1910.25 549.9,1908.49 550.0,1906.69 550.0,1904.87 550.1,1903.04 550.2,1901.21 550.3,1899.38 550.3,1897.56 550.4,1895.76 550.5,1894.03 550.6,1892.31 550.7,1890.60 550.8,1888.89 550.9,1887.19 551.0,1885.49 551.1,1883.80 551.2,1882.12 551.3,1880.49 551.4,1878.88 551.4,1877.28 551.5,1875.68 551.6,1874.08 551.6,1872.48 551.7,1870.86 551.8,1869.24 551.9,1867.55 551.9,1865.86 552.0,1864.17 552.1,1862.47 552.2,1860.76 552.2,1859.04 552.3,1857.32 552.4,1855.59 552.4,1853.80 552.5,1852.00 552.6,1850.19 552.7,1848.37 552.8,1846.56 552.8,1844.73 552.9,1842.92 553.0,1841.10 553.0,1839.29 553.1,1837.47 553.1,1835.65 553.2,1833.83 553.2,1832.02 553.2,1830.21 553.3,1828.40 553.4,1826.61 553.4,1824.88 553.5,1823.16 553.5,1821.45 553.6,1819.75 553.7,1818.04 553.8,1816.33 553.9,1814.61 553.9,1812.88 554.0,1811.09 554.1,1809.29 554.3,1807.48 554.4,1805.66 554.5,1803.84 554.6,1802.02 554.7,1800.20 554.8,1798.39 554.9,1796.57 555.0,1794.75 555.2,1792.92 555.3,1791.09 555.4,1789.27 555.5,1787.46 555.6,1785.67 555.7,1783.90 555.8,1782.26 555.9,1780.64 556.0,1779.04 556.0,1777.46 556.1,1775.87 556.2,1774.27 556.3,1772.66 556.5,1771.02 556.7,1769.26 556.9,1767.51 557.1,1765.74 557.4,1763.97 557.7,1762.17 557.9,1760.33 558.2,1758.45 558.6,1756.53 559.0,1753.89 559.4,1750.79 559.9,1747.46 560.4,1744.17 560.9,1741.16 561.3,1738.70 561.8,1737.05 562.2,1736.44 562.5,1736.93 562.8,1738.24 563.0,1740.19 563.3,1742.57 563.5,1745.19 563.8,1747.86 564.0,1750.37 564.1,1752.54 564.3,1754.30 564.4,1756.02 564.5,1757.72 564.6,1759.41 564.7,1761.09 564.8,1762.77 564.9,1764.47 565.0,1766.19 565.1,1767.98 565.2,1769.79 565.3,1771.61 565.5,1773.43 565.6,1775.26 565.7,1777.07 565.8,1778.88 566.0,1780.68 566.2,1782.41 566.4,1784.14 566.7,1785.86 566.9,1787.57 567.2,1789.28 567.4,1790.98 567.7,1792.69 567.9,1794.41 568.0,1796.11 568.1,1797.82 568.2,1799.52 568.3,1801.23 568.4,1802.93 568.5,1804.64 568.6,1806.35 568.8,1808.05 568.9,1809.77 569.2,1811.48 569.4,1813.20 569.6,1814.92 569.9,1816.63 570.2,1818.35 570.4,1820.06 570.6,1821.78 570.8,1823.49 571.0,1825.19 571.2,1826.90 571.4,1828.60 571.6,1830.30 571.7,1832.01 571.9,1833.72 572.1,1835.42 572.3,1837.14 572.4,1838.85 572.6,1840.55 572.8,1842.27 572.9,1843.98 573.1,1845.70 573.3,1847.42 573.5,1849.15 573.7,1850.94 573.9,1852.74 574.1,1854.55 574.3,1856.36 574.5,1858.17 574.8,1859.97 575.0,1861.77 575.2,1863.56 575.5,1865.29 575.7,1867.02 576.0,1868.73 576.2,1870.45 576.5,1872.16 576.7,1873.86 576.9,1875.57 577.1,1877.29 577.2,1878.99 577.4,1880.70 577.5,1882.40 577.6,1884.11 577.7,1885.81 577.8,1887.52 577.9,1889.23 578.0,1890.93 578.1,1892.65 578.2,1894.36 578.4,1896.08 578.5,1897.80 578.7,1899.52 578.8,1901.23 579.0,1902.95 579.1,1904.66 579.3,1906.37 579.5,1908.07 579.7,1909.78 579.9,1911.48 580.1,1913.19 580.3,1914.89 580.4,1916.60 580.6,1918.31 580.8,1920.02 580.9,1921.74 581.1,1923.45 581.2,1925.17 581.3,1926.89 581.5,1928.61 581.6,1930.32 581.8,1932.03 582.0,1933.74 582.2,1935.45 582.4,1937.16 582.6,1938.86 582.9,1940.56 583.1,1942.27 583.3,1943.97 583.6,1945.68 583.8,1947.38 584.0,1949.09 584.3,1950.79 584.5,1952.50 584.7,1954.20 585.0,1955.91 585.2,1957.61 585.4,1959.32 585.7,1961.04 585.9,1962.75 586.1,1964.47 586.4,1966.18 586.6,1967.90 586.8,1969.62 587.1,1971.33 587.3,1973.05 587.5,1974.77 587.7,1976.48 588.0,1978.20 588.2,1979.92 588.4,1981.64 588.7,1983.35 588.9,1985.07 589.1,1986.78 589.4,1988.49 589.6,1990.20 589.9,1991.92 590.1,1993.63 590.4,1995.34 590.7,1997.04 590.9,1998.74 591.2,2000.42 591.5,2002.05 591.8,2003.66 592.1,2005.26 592.4,2006.86 592.7,2008.46 593.0,2010.06 593.3,2011.68 593.6,2013.31 593.8,2015.00 594.1,2016.71 594.4,2018.42 594.7,2020.14 594.9,2021.87 595.2,2023.59 595.5,2025.32 595.7,2027.03 596.0,2028.74 596.2,2030.44 596.5,2032.14 596.8,2033.84 597.0,2035.54 597.3,2037.25 597.6,2038.96 597.9,2040.68 598.2,2042.45 598.5,2044.23 598.9,2046.01 599.2,2047.80 599.6,2049.59 599.9,2051.37 600.3,2053.15 600.6,2054.92 601.0,2056.64 601.3,2058.36 601.6,2060.07 602.0,2061.78 602.3,2063.49 602.7,2065.18 603.0,2066.88 603.4,2068.56 603.7,2070.18 604.1,2071.79 604.4,2073.38 604.8,2074.98 605.1,2076.57 605.5,2078.17 605.9,2079.80 606.2,2081.44 606.6,2083.22 606.9,2085.02 607.2,2086.84 607.6,2088.68 607.9,2090.51 608.3,2092.34 608.7,2094.15 609.2,2095.93 609.6,2097.72 610.1,2099.59 610.6,2101.50 611.1,2103.37 611.7,2105.15 612.3,2106.78 613.0,2108.19 613.7,2109.32 614.1,2109.82 614.5,2110.29 614.9,2110.72 615.3,2111.09 615.8,2111.41 616.2,2111.65 616.6,2111.80 617.1,2111.86 617.6,2111.82 618.1,2111.67 618.6,2111.43 619.1,2111.12 619.6,2110.73 620.1,2110.30 620.6,2109.82 621.0,2109.32 621.8,2108.30 622.5,2107.04 623.2,2105.60 623.9,2104.03 624.5,2102.39 625.2,2100.72 625.8,2099.09 626.4,2097.54 627.0,2096.04 627.5,2094.50 628.1,2092.94 628.6,2091.39 629.1,2089.86 629.6,2088.37 630.2,2086.94 630.8,2085.59 631.4,2084.47 631.9,2083.31 632.5,2082.15 633.1,2081.04 633.7,2080.03 634.4,2079.14 635.0,2078.44 635.7,2077.97 636.1,2077.79 636.6,2077.65 637.0,2077.57 637.5,2077.54 637.9,2077.56 638.3,2077.64 638.8,2077.77 639.2,2077.97 639.9,2078.62 640.7,2079.62 641.3,2080.90 642.0,2082.37 642.6,2083.97 643.2,2085.61 643.8,2087.23 644.4,2088.73 644.9,2090.27 645.4,2091.84 645.9,2093.44 646.3,2095.06 646.7,2096.70 647.1,2098.34 647.6,2099.98 648.1,2101.61 648.6,2103.30 649.2,2105.01 649.8,2106.72 650.4,2108.44 651.0,2110.15 651.6,2111.86 652.2,2113.57 652.8,2115.25 653.4,2116.88 654.0,2118.50 654.6,2120.11 655.2,2121.71 655.7,2123.32 656.3,2124.92 656.9,2126.52 657.4,2128.14 657.9,2129.74 658.4,2131.35 658.9,2132.96 659.3,2134.57 659.8,2136.18 660.2,2137.79 660.7,2139.41 661.1,2141.02 661.6,2142.62 662.1,2144.23 662.5,2145.83 663.0,2147.43 663.5,2149.04 663.9,2150.65 664.4,2152.27 664.9,2153.90 665.3,2155.60 665.8,2157.31 666.2,2159.04 666.7,2160.77 667.1,2162.50 667.6,2164.22 668.1,2165.94 668.6,2167.63 669.1,2169.26 669.7,2170.89 670.3,2172.50 670.9,2174.10 671.5,2175.70 672.1,2177.30 672.7,2178.90 673.3,2180.51 673.9,2182.12 674.5,2183.72 675.0,2185.32 675.6,2186.92 676.2,2188.53 676.8,2190.14 677.3,2191.76 677.9,2193.39 678.5,2195.08 679.1,2196.77 679.7,2198.48 680.3,2200.19 680.9,2201.90 681.4,2203.61 682.0,2205.33 682.6,2207.03 683.2,2208.74 683.8,2210.45 684.3,2212.17 684.9,2213.88 685.5,2215.59 686.1,2217.29 686.6,2218.99 687.2,2220.68 687.8,2222.32 688.4,2223.94 689.0,2225.56 689.5,2227.17 690.1,2228.79 690.7,2230.40 691.3,2232.02 691.9,2233.64 692.5,2235.30 693.1,2236.97 693.8,2238.64 694.4,2240.31 695.0,2241.98 695.6,2243.64 696.3,2245.30 696.9,2246.95 697.6,2248.57 698.3,2250.19 699.0,2251.80 699.7,2253.40 700.4,2255.01 701.1,2256.61 701.8,2258.22 702.4,2259.83 703.1,2261.44 703.7,2263.05 704.3,2264.67 704.9,2266.29 705.6,2267.90 706.2,2269.51 706.8,2271.11 707.4,2272.71 708.0,2274.27 708.6,2275.82 709.3,2277.35 709.9,2278.89 710.5,2280.43 711.1,2281.97 711.8,2283.52 712.4,2285.08 713.1,2286.74 713.9,2288.43 714.6,2290.12 715.4,2291.81 716.2,2293.51 717.0,2295.19 717.8,2296.85 718.6,2298.47 719.4,2299.99 720.1,2301.49 720.9,2302.97 721.6,2304.44 722.4,2305.89 723.2,2307.35 724.0,2308.80 724.9,2310.25 725.8,2311.76 726.8,2313.26 727.7,2314.76 728.7,2316.26 729.8,2317.75 730.8,2319.22 731.9,2320.68 732.9,2322.12 734.0,2323.50 735.0,2324.88 736.1,2326.25 737.1,2327.60 738.2,2328.93 739.3,2330.24 740.5,2331.53 741.6,2332.80 742.9,2334.02 744.1,2335.22 745.4,2336.39 746.7,2337.54 748.0,2338.68 749.4,2339.80 750.7,2340.92 752.0,2342.03 753.4,2343.15 754.7,2344.28 756.0,2345.40 757.4,2346.51 758.7,2347.59 760.1,2348.64 761.6,2349.65 763.0,2350.59 764.5,2351.46 766.1,2352.26 767.6,2353.02 769.2,2353.75 770.9,2354.45 772.5,2355.16 774.1,2355.87 775.7,2356.61 777.2,2357.38 778.8,2358.16 780.3,2358.95 781.9,2359.74 783.4,2360.52 785.0,2361.28 786.6,2362.01 788.2,2362.71 789.9,2363.38 791.6,2364.02 793.4,2364.63 795.1,2365.22 796.9,2365.79 798.6,2366.37 800.4,2366.95 802.2,2367.54 803.9,2368.16 805.7,2368.78 807.4,2369.41 809.2,2370.03 810.9,2370.65 812.7,2371.25 814.4,2371.83 816.2,2372.37 817.9,2372.88 819.7,2373.37 821.4,2373.84 823.2,2374.29 824.9,2374.72 826.7,2375.14 828.4,2375.54 830.1,2375.93 831.7,2376.27 833.3,2376.59 834.8,2376.88 836.4,2377.16 837.9,2377.44 839.5,2377.73 841.1,2378.04 842.7,2378.39 844.4,2378.80 846.1,2379.26 847.9,2379.73 849.6,2380.22 851.4,2380.71 853.1,2381.19 854.9,2381.63 856.7,2382.03 858.4,2382.38 860.2,2382.68 861.9,2382.96 863.7,2383.22 865.5,2383.48 867.2,2383.76 869.0,2384.06 870.7,2384.41 872.5,2384.81 874.2,2385.26 875.9,2385.74 877.7,2386.23 879.4,2386.72 881.1,2387.20 882.9,2387.65 884.6,2388.05 886.4,2388.41 888.1,2388.73 889.8,2389.03 891.6,2389.31 893.3,2389.58 895.1,2389.85 896.8,2390.13 898.6,2390.42 900.3,2390.73 902.1,2391.03 903.8,2391.34 905.6,2391.65 907.3,2391.96 909.1,2392.27 910.8,2392.58 912.6,2392.88 914.3,2393.18 916.1,2393.48 917.8,2393.77 919.6,2394.07 921.4,2394.36 923.1,2394.66 924.9,2394.95 926.6,2395.25 928.4,2395.56 930.1,2395.86 931.9,2396.17 933.6,2396.47 935.4,2396.78 937.1,2397.09 938.8,2397.40 940.5,2397.71 942.1,2398.01 943.7,2398.31 945.2,2398.61 946.8,2398.90 948.3,2399.20 949.9,2399.50 951.5,2399.79 953.1,2400.08 954.9,2400.41 956.8,2400.74 958.7,2401.07 960.6,2401.40 962.5,2401.71 964.5,2402.01 966.5,2402.29 968.5,2402.54 970.8,2402.77 973.3,2402.95 975.9,2403.09 978.4,2403.21 981.0,2403.33 983.5,2403.48 985.8,2403.66 988.1,2403.90 989.8,2404.14 991.4,2404.42 992.9,2404.73 994.5,2405.05 995.9,2405.36 997.4,2405.67 999.0,2405.95 1000.6,2406.19 1002.3,2406.39 1004.0,2406.57 1005.7,2406.72 1007.5,2406.86 1009.3,2406.98 1011.0,2407.11 1012.8,2407.23 1014.6,2407.37 1016.3,2407.51 1018.1,2407.64 1019.8,2407.76 1021.6,2407.89 1023.4,2408.02 1025.1,2408.17 1026.9,2408.35 1028.6,2408.56 1030.3,2408.81 1032.1,2409.11 1033.8,2409.44 1035.5,2409.79 1037.3,2410.13 1039.0,2410.46 1040.7,2410.76 1042.5,2411.02 1044.4,2411.23 1046.3,2411.41 1048.3,2411.56 1050.3,2411.69 1052.2,2411.81 1054.2,2411.93 1056.1,2412.06 1057.9,2412.20 1059.5,2412.36 1061.1,2412.55 1062.7,2412.75 1064.2,2412.95 1065.7,2413.13 1067.3,2413.27 1068.9,2413.36 1070.5,2413.39 1072.3,2413.31 1074.3,2413.13 1076.2,2412.88 1078.2,2412.59 1080.1,2412.30 1082.1,2412.03 1084.0,2411.81 1085.9,2411.69 1087.5,2411.66 1089.1,2411.67 1090.6,2411.72 1092.2,2411.79 1093.7,2411.88 1095.3,2411.99 1096.8,2412.10 1098.4,2412.20 1100.1,2412.33 1101.8,2412.48 1103.5,2412.65 1105.2,2412.82 1106.9,2412.99 1108.6,2413.15 1110.5,2413.29 1112.4,2413.39 1114.8,2413.47 1117.3,2413.50 1119.9,2413.51 1122.6,2413.49 1125.3,2413.46 1128.1,2413.43 1130.8,2413.40 1133.4,2413.39" fill="none" stroke="#ed3c3c" stroke-width="8" stroke-linecap="round" stroke-linejoin="round" stroke-dasharray="0.01 14"/>
<path d="M1167.0,2423.73 1170.3,2423.72 1173.6,2423.71 1176.8,2423.70 1180.1,2423.68 1183.3,2423.68 1186.7,2423.68 1190.0,2423.69 1193.5,2423.73 1197.6,2423.76 1201.8,2423.76 1206.1,2423.76 1210.5,2423.79 1214.8,2423.85 1219.0,2423.99 1223.1,2424.23 1226.9,2424.58 1229.7,2424.97 1232.2,2425.47 1234.7,2426.04 1237.0,2426.65 1239.4,2427.27 1241.9,2427.86 1244.6,2428.38 1247.5,2428.81 1252.0,2429.28 1256.6,2429.63 1261.3,2429.89 1266.4,2430.07 1271.8,2430.19 1277.8,2430.29 1284.4,2430.39 1291.7,2430.51 1314.5,2430.87 1345.2,2431.26 1380.8,2431.61 1418.3,2431.83 1454.7,2431.82 1487.1,2431.52 1512.3,2430.83 1527.4,2429.66 1528.9,2429.35 1530.1,2428.97 1531.1,2428.55 1532.0,2428.14 1532.7,2427.75 1533.5,2427.43 1534.3,2427.21 1535.3,2427.12 1536.5,2427.21 1537.7,2427.49 1538.8,2427.92 1540.0,2428.44 1541.4,2429.01 1542.9,2429.58 1544.8,2430.09 1547.0,2430.51 1561.9,2431.72 1584.0,2432.39 1611.9,2432.63 1643.9,2432.57 1678.5,2432.33 1714.2,2432.03 1749.5,2431.81 1782.7,2431.78 1820.5,2431.89 1859.5,2431.97 1899.5,2432.02 1940.2,2432.06 1981.3,2432.09 2022.4,2432.12 2063.4,2432.16 2103.9,2432.20" fill="none" stroke="#ed3c3c" stroke-width="8" stroke-linecap="round" stroke-linejoin="round" stroke-dasharray="0.01 14"/>
<path d="M251.0,2338.81 255.0,2338.05 259.1,2337.34 263.1,2336.66 267.1,2335.96 271.1,2335.22 275.2,2334.40 279.3,2333.46 283.4,2332.37 288.0,2330.98 292.6,2329.41 297.2,2327.70 301.9,2325.89 306.6,2324.02 311.3,2322.12 316.0,2320.23 320.6,2318.39 325.4,2316.59 330.2,2314.79 335.0,2313.00 339.9,2311.18 344.6,2309.33 349.2,2307.42 353.7,2305.45 357.9,2303.39 361.4,2301.52 364.7,2299.60 367.9,2297.62 371.0,2295.60 374.1,2293.55 377.0,2291.48 379.9,2289.39 382.7,2287.29 385.3,2285.34 387.8,2283.36 390.3,2281.36 392.7,2279.34 395.0,2277.31 397.2,2275.27 399.3,2273.23 401.3,2271.19 403.0,2269.43 404.5,2267.74 406.0,2266.07 407.4,2264.37 408.7,2262.62 410.0,2260.77 411.4,2258.78 412.8,2256.61 415.0,2253.08 417.2,2249.19 419.5,2245.00 421.8,2240.60 424.0,2236.05 426.2,2231.44 428.3,2226.83 430.2,2222.29 432.0,2217.63 433.7,2212.91 435.3,2208.13 436.9,2203.31 438.4,2198.45 439.8,2193.55 441.2,2188.61 442.5,2183.64 444.0,2178.30 445.4,2172.76 446.7,2167.10 448.0,2161.44 449.3,2155.87 450.5,2150.49 451.6,2145.39 452.5,2140.68 453.2,2137.60 453.7,2134.74 454.3,2132.03 454.8,2129.42 455.2,2126.83 455.7,2124.22 456.1,2121.51 456.6,2118.64 457.0,2115.17 457.5,2111.57 457.9,2107.89 458.3,2104.16 458.7,2100.39 459.1,2096.61 459.5,2092.86 459.9,2089.15 460.3,2085.52 460.7,2081.89 461.2,2078.27 461.6,2074.65 462.0,2071.03 462.4,2067.41 462.8,2063.79 463.2,2060.17 463.6,2056.55 464.0,2052.93 464.3,2049.30 464.7,2045.68 465.0,2042.06 465.4,2038.43 465.7,2034.81 466.1,2031.19 466.4,2027.56 466.8,2023.94 467.1,2020.32 467.5,2016.70 467.8,2013.07 468.2,2009.45 468.5,2005.83 468.8,2002.20 469.1,1998.58 469.4,1994.96 469.7,1991.34 470.0,1987.71 470.3,1984.09 470.6,1980.47 470.8,1976.84 471.1,1973.22 471.3,1969.60 471.5,1965.98 471.8,1962.35 472.0,1958.73 472.2,1955.11 472.4,1951.48 472.6,1947.86 472.7,1944.24 472.9,1940.60 473.0,1936.95 473.1,1933.29 473.2,1929.63 473.3,1925.98 473.4,1922.37 473.5,1918.79 473.7,1915.25 473.9,1912.04 474.2,1908.93 474.4,1905.88 474.7,1902.84 475.0,1899.77 475.2,1896.60 475.5,1893.31 475.7,1889.83 475.9,1885.12 476.1,1880.23 476.3,1875.17 476.5,1869.94 476.6,1864.55 476.8,1859.00 476.9,1853.30 477.1,1847.46 477.2,1839.79 477.4,1831.80 477.5,1823.53 477.6,1815.02 477.7,1806.34 477.8,1797.51 477.9,1788.61 478.0,1779.66 478.2,1769.45 478.3,1758.89 478.4,1748.11 478.5,1737.22 478.6,1726.34 478.7,1715.58 478.9,1705.07 479.0,1694.92 479.2,1685.36 479.3,1674.71 479.5,1663.72 479.6,1653.09 479.8,1643.56 479.9,1635.85 480.1,1630.69 480.3,1628.81 480.5,1630.69 480.7,1635.85 480.9,1643.56 481.1,1653.09 481.3,1663.72 481.5,1674.71 481.6,1685.36 481.8,1694.92 481.9,1705.07 482.0,1715.58 482.1,1726.34 482.1,1737.22 482.2,1748.11 482.2,1758.89 482.3,1769.45 482.4,1779.66 482.4,1788.61 482.5,1797.51 482.5,1806.34 482.6,1815.02 482.7,1823.53 482.7,1831.80 482.8,1839.79 482.9,1847.46 483.0,1853.30 483.1,1859.00 483.2,1864.55 483.3,1869.94 483.5,1875.17 483.6,1880.23 483.8,1885.12 483.9,1889.83 484.1,1893.31 484.2,1896.60 484.4,1899.77 484.5,1902.84 484.7,1905.88 484.9,1908.93 485.1,1912.04 485.3,1915.25 485.6,1918.79 485.8,1922.37 486.1,1925.99 486.4,1929.63 486.8,1933.29 487.1,1936.95 487.5,1940.60 487.8,1944.24 488.2,1947.86 488.6,1951.48 489.1,1955.11 489.5,1958.73 490.0,1962.35 490.4,1965.97 490.8,1969.60 491.2,1973.22 491.5,1976.84 491.8,1980.47 492.0,1984.09 492.2,1987.72 492.5,1991.34 492.7,1994.96 493.1,1998.58 493.4,2002.20 493.9,2005.83 494.4,2009.46 494.9,2013.08 495.5,2016.70 496.1,2020.32 496.7,2023.94 497.3,2027.56 497.8,2031.19 498.4,2034.85 498.9,2038.57 499.5,2042.32 500.0,2046.05 500.6,2049.74 501.2,2053.34 501.7,2056.83 502.4,2060.17 502.9,2062.83 503.3,2065.47 503.8,2068.06 504.3,2070.58 504.8,2073.01 505.4,2075.32 506.1,2077.49 506.9,2079.49 507.6,2080.96 508.3,2082.51 509.2,2084.05 510.0,2085.49 510.9,2086.75 511.8,2087.73 512.6,2088.37 513.3,2088.56 514.1,2088.18 514.9,2087.26 515.6,2085.90 516.3,2084.20 517.0,2082.28 517.6,2080.25 518.1,2078.21 518.6,2076.27 519.2,2073.54 519.6,2070.56 519.9,2067.40 520.1,2064.11 520.3,2060.72 520.4,2057.29 520.6,2053.87 520.8,2050.51 521.1,2046.92 521.3,2043.24 521.5,2039.49 521.7,2035.73 522.0,2032.01 522.2,2028.37 522.6,2024.86 523.0,2021.53 523.5,2018.71 523.9,2015.66 524.3,2012.55 524.8,2009.56 525.3,2006.89 525.9,2004.70 526.6,2003.19 527.5,2002.54 528.1,2002.65 528.9,2003.14 529.6,2003.93 530.5,2004.96 531.3,2006.15 532.1,2007.42 532.9,2008.70 533.6,2009.92 534.6,2011.61 535.5,2013.48 536.4,2015.49 537.2,2017.59 538.0,2019.77 538.8,2021.97 539.6,2024.18 540.4,2026.36 541.3,2028.67 542.1,2031.02 542.9,2033.38 543.8,2035.77 544.6,2038.20 545.4,2040.65 546.2,2043.15 547.1,2045.68 548.0,2048.57 549.0,2051.52 550.0,2054.53 551.0,2057.58 552.0,2060.64 553.0,2063.72 554.0,2066.79 554.9,2069.83 555.8,2072.84 556.7,2075.84 557.6,2078.85 558.4,2081.86 559.3,2084.87 560.1,2087.89 560.8,2090.93 561.6,2093.98 562.3,2097.13 563.0,2100.31 563.6,2103.53 564.3,2106.75 564.9,2109.95 565.5,2113.11 566.1,2116.21 566.8,2119.24 567.4,2121.84 568.0,2124.33 568.6,2126.76 569.2,2129.17 569.8,2131.60 570.4,2134.09 571.0,2136.68 571.7,2139.41 572.6,2143.07 573.5,2146.93 574.4,2150.93 575.3,2155.04 576.3,2159.20 577.2,2163.38 578.2,2167.53 579.1,2171.61 580.1,2175.64 581.0,2179.66 581.9,2183.69 582.9,2187.71 583.8,2191.74 584.7,2195.76 585.7,2199.79 586.6,2203.81 587.5,2207.83 588.5,2211.85 589.4,2215.86 590.3,2219.88 591.2,2223.90 592.2,2227.92 593.1,2231.96 594.1,2236.02 595.0,2240.17 596.0,2244.33 596.9,2248.51 597.8,2252.70 598.8,2256.89 599.8,2261.09 600.8,2265.29 601.9,2269.49 603.0,2273.78 604.3,2278.11 605.5,2282.44 606.8,2286.78 608.0,2291.10 609.3,2295.39 610.6,2299.63 611.8,2303.81 612.9,2307.70 614.0,2311.57 615.0,2315.42 616.1,2319.23 617.1,2323.00 618.2,2326.71 619.3,2330.34 620.5,2333.90 621.7,2337.02 622.8,2340.07 624.0,2343.07 625.3,2346.02 626.5,2348.93 627.8,2351.81 629.1,2354.68 630.4,2357.54 631.7,2360.31 633.1,2363.07 634.4,2365.82 635.8,2368.54 637.2,2371.22 638.6,2373.87 640.1,2376.46 641.6,2378.98 643.1,2381.29 644.5,2383.57 646.0,2385.83 647.5,2388.04 649.0,2390.19 650.6,2392.27 652.3,2394.28 654.1,2396.19 655.8,2397.88 657.5,2399.52 659.3,2401.09 661.2,2402.61 663.1,2404.06 665.0,2405.43 667.0,2406.74 669.0,2407.97 670.9,2409.06 672.8,2410.09 674.8,2411.05 676.8,2411.96 678.8,2412.80 680.8,2413.57 682.9,2414.28 685.1,2414.92 687.2,2415.47 689.3,2415.93 691.4,2416.31 693.6,2416.62 695.8,2416.89 698.2,2417.13 700.8,2417.37 703.7,2417.63 709.7,2418.07 716.8,2418.45 724.7,2418.77 732.9,2419.04 741.3,2419.27 749.3,2419.46 756.8,2419.61 763.2,2419.75 766.8,2419.80 769.9,2419.82 772.8,2419.82 775.6,2419.81 778.4,2419.80 781.3,2419.81 784.6,2419.84 788.2,2419.92 795.2,2420.14 803.0,2420.47 811.5,2420.87 820.4,2421.32 829.7,2421.79 839.2,2422.25 848.7,2422.68 858.1,2423.05 868.9,2423.40 880.2,2423.71 891.9,2423.99 903.7,2424.25 915.3,2424.51 926.7,2424.79 937.5,2425.09 947.5,2425.42 954.4,2425.71 960.9,2426.03 967.1,2426.36 973.2,2426.70 979.1,2427.03 985.1,2427.35 991.3,2427.63 997.8,2427.88 1005.8,2428.09 1014.6,2428.22 1023.7,2428.31 1032.8,2428.38 1041.6,2428.46 1049.6,2428.58 1056.6,2428.78 1062.1,2429.07 1064.0,2429.22 1065.6,2429.37 1067.0,2429.53 1068.3,2429.70 1069.5,2429.88 1070.6,2430.07 1071.8,2430.28 1073.1,2430.51 1074.4,2430.76 1075.6,2431.05 1076.7,2431.36 1077.9,2431.68 1079.1,2431.99 1080.3,2432.28 1081.6,2432.52 1082.9,2432.71 1084.7,2432.90 1086.7,2433.07 1088.7,2433.21 1090.7,2433.29 1092.8,2433.30 1094.8,2433.22 1096.8,2433.03 1098.6,2432.71 1100.2,2432.24 1101.6,2431.58 1103.0,2430.81 1104.4,2429.97 1105.7,2429.12 1107.2,2428.32 1108.7,2427.64 1110.4,2427.12 1112.9,2426.69 1115.5,2426.46 1118.4,2426.39 1121.4,2426.42 1124.4,2426.51 1127.5,2426.62 1130.5,2426.69 1133.4,2426.69" fill="none" stroke="#1b6fe0" stroke-width="8.5" stroke-linecap="round" stroke-linejoin="round"/>
<path d="M1167.3,2432.20 1170.0,2432.15 1172.6,2432.10 1175.3,2432.05 1178.0,2431.99 1180.7,2431.94 1183.3,2431.89 1186.0,2431.83 1188.6,2431.78 1191.1,2431.70 1193.7,2431.60 1196.2,2431.48 1198.7,2431.36 1201.2,2431.27 1203.7,2431.23 1206.0,2431.25 1208.2,2431.36 1210.0,2431.51 1211.6,2431.72 1213.3,2431.97 1214.8,2432.24 1216.4,2432.54 1217.9,2432.86 1219.5,2433.17 1221.0,2433.47 1222.4,2433.78 1223.8,2434.11 1225.1,2434.46 1226.3,2434.81 1227.7,2435.15 1229.2,2435.47 1230.9,2435.77 1232.8,2436.02 1237.6,2436.41 1243.1,2436.63 1249.3,2436.71 1256.2,2436.69 1263.8,2436.62 1272.3,2436.52 1281.5,2436.45 1291.7,2436.44 1324.1,2436.49 1365.2,2436.48 1413.0,2436.42 1465.6,2436.34 1521.0,2436.24 1577.3,2436.14 1632.4,2436.06 1684.5,2436.02 1736.3,2436.00 1788.4,2435.99 1840.8,2435.98 1893.3,2435.99 1946.0,2436.00 1998.7,2436.01 2051.3,2436.01 2103.9,2436.02" fill="none" stroke="#1b6fe0" stroke-width="8.5" stroke-linecap="round" stroke-linejoin="round"/>
<path d="M252.3,2338.31 253.7,2337.96 M285.7,2330.10 287.1,2329.66 288.5,2329.20 M319.3,2316.46 320.6,2315.76 321.9,2315.04 M348.6,2296.28 349.8,2295.34 350.9,2294.39 M375.8,2269.67 376.7,2268.47 377.5,2267.24 M394.3,2235.44 394.9,2234.07 395.4,2232.68 M407.4,2194.66 407.8,2193.22 408.2,2191.78 M416.9,2156.13 417.2,2154.66 417.5,2153.19 M423.3,2114.79 423.5,2113.31 423.7,2111.82 M427.9,2073.27 428.0,2071.78 428.2,2070.29 M431.3,2030.73 431.4,2029.24 431.5,2027.74 M433.5,1989.72 433.6,1988.22 433.7,1986.72 M435.2,1946.67 435.3,1945.17 435.3,1943.67 M437.1,1896.75 437.1,1895.25 437.2,1893.76 M439.1,1851.50 439.2,1850.00 439.3,1848.50 M440.8,1809.21 440.9,1807.71 440.9,1806.21 M443.1,1767.60 443.1,1766.10 443.2,1764.60 M444.7,1724.55 444.8,1723.05 444.8,1721.55 M446.4,1682.26 446.5,1680.76 446.5,1679.26 M449.2,1639.96 449.4,1638.47 449.6,1636.99 M457.9,1610.92 458.1,1611.45 458.4,1612.33 458.7,1613.38 458.8,1613.78 M461.6,1656.64 461.7,1658.14 461.8,1659.63 M465.0,1699.01 465.1,1700.51 465.2,1702.00 M467.5,1740.54 467.5,1742.03 467.6,1743.53 M470.0,1782.83 470.1,1784.32 470.2,1785.82 M473.4,1825.20 473.5,1826.69 473.6,1828.19 M475.9,1867.49 476.0,1868.98 476.1,1870.48 M479.3,1909.78 479.4,1911.27 479.5,1912.77 M482.6,1951.47 482.7,1952.97 482.9,1954.46 M487.1,1996.81 487.3,1998.31 487.4,1999.80 M492.1,2042.24 492.3,2043.73 492.4,2045.22 M497.1,2083.77 497.4,2085.25 497.6,2086.73 M504.9,2125.22 505.2,2126.69 505.5,2128.17 M513.1,2166.08 513.4,2167.54 513.8,2169.01 M522.9,2206.87 523.3,2208.31 523.8,2209.74 M536.4,2246.66 537.0,2248.05 537.5,2249.44 M553.6,2284.29 554.3,2285.59 555.1,2286.88 M578.4,2319.87 579.3,2321.02 580.3,2322.15 M607.1,2349.09 608.3,2350.00 609.5,2350.86 M647.1,2371.41 648.5,2372.03 649.8,2372.65 M686.8,2387.10 688.2,2387.54 689.6,2387.96 M728.4,2396.74 729.9,2397.03 731.3,2397.33 M770.0,2404.69 771.5,2404.92 772.9,2405.13 M813.3,2409.59 814.8,2409.75 816.3,2409.91 M858.1,2414.43 859.5,2414.58 861.0,2414.72 M901.3,2418.13 902.8,2418.22 904.2,2418.31 M943.2,2419.84 944.7,2419.92 946.1,2420.00 M986.6,2422.97 988.1,2423.05 989.6,2423.12 M1031.3,2424.20 1032.8,2424.24 1034.3,2424.28 M1073.2,2425.38 1074.7,2425.42 1076.2,2425.47 M1116.6,2426.65 1118.0,2426.69 1119.5,2426.74" fill="none" stroke="#34a864" stroke-width="8.6" stroke-linecap="round" stroke-linejoin="round"/>
<path d="M1167.0,2433.05 1170.8,2433.21 1174.5,2433.38 1178.0,2433.55 1181.7,2433.72 1185.4,2433.89 1189.4,2434.04 1193.7,2434.19 1198.4,2434.32 1207.3,2434.51 1216.8,2434.66 1226.9,2434.78 1237.9,2434.87 1249.8,2434.95 1262.7,2435.02 1276.6,2435.09 1291.7,2435.17 1327.8,2435.34 1370.6,2435.49 1418.6,2435.61 1470.4,2435.72 1524.4,2435.81 1579.1,2435.89 1633.0,2435.96 1684.5,2436.02 1736.3,2436.06 1788.4,2436.08 1840.8,2436.08 1893.3,2436.07 1946.0,2436.06 1998.7,2436.04 2051.3,2436.02 2103.9,2436.02" fill="none" stroke="#34a864" stroke-width="8.6" stroke-linecap="round" stroke-linejoin="round" stroke-dasharray="3 40"/>
<path d="M254.9,2343.69 255.4,2343.63 257.6,2343.38 259.8,2343.13 262.0,2342.88 264.2,2342.63 266.4,2342.37 268.6,2342.11 270.7,2341.83 272.9,2341.55 273.2,2341.50 M298.0,2336.94 299.5,2336.69 300.9,2336.47 M325.4,2333.11 326.8,2332.88 328.3,2332.63 M355.5,2327.45 356.6,2327.28 359.2,2326.91 361.9,2326.56 364.6,2326.21 367.2,2325.87 369.9,2325.53 372.6,2325.20 375.2,2324.86 377.8,2324.52 378.8,2324.37 M404.2,2320.31 405.7,2320.00 407.1,2319.66 M430.7,2312.79 432.1,2312.39 433.6,2312.01 M462.3,2303.25 463.2,2302.74 464.2,2302.16 465.1,2301.60 466.1,2301.05 467.0,2300.55 467.9,2300.09 468.9,2299.70 469.9,2299.38 471.0,2299.15 472.1,2299.05 473.2,2299.08 474.3,2299.22 475.4,2299.44 476.5,2299.71 477.6,2300.00 478.8,2300.28 480.0,2300.53 480.8,2300.66 M504.8,2288.62 506.0,2287.71 507.1,2286.78 M524.8,2269.34 525.9,2268.39 527.1,2267.49 M549.9,2251.85 550.4,2251.44 552.0,2249.82 553.6,2248.15 555.2,2246.45 556.8,2244.71 558.4,2242.95 559.9,2241.17 561.4,2239.39 562.8,2237.60 563.1,2237.18 M578.5,2214.83 579.2,2213.56 580.0,2212.29 M593.4,2189.16 594.2,2187.88 594.9,2186.61 M608.9,2164.08 609.2,2163.50 610.2,2161.34 611.2,2159.13 612.2,2156.91 613.2,2154.67 614.1,2152.43 615.0,2150.22 615.9,2148.04 616.7,2145.91 616.8,2145.59 M624.5,2122.62 625.0,2120.73 625.6,2118.53 626.1,2116.26 626.7,2113.95 627.2,2111.60 627.8,2109.23 628.3,2106.86 628.9,2104.49 629.4,2102.14 629.6,2101.44 M635.4,2075.41 635.6,2073.94 635.9,2072.46 M639.3,2046.99 639.5,2045.51 639.7,2044.02 M643.7,2017.40 643.8,2016.66 644.2,2014.26 644.5,2011.83 644.8,2009.38 645.1,2006.93 645.4,2004.47 645.7,2002.01 646.0,1999.56 646.3,1997.14 646.4,1996.34 M649.6,1968.10 649.8,1966.61 649.9,1965.12 M651.5,1939.97 651.6,1938.47 651.7,1936.98 M653.3,1909.48 653.3,1908.75 653.4,1906.35 653.5,1903.93 653.5,1901.49 653.5,1899.04 653.6,1896.59 653.6,1894.14 653.6,1891.70 653.7,1889.27 653.7,1888.49 M654.6,1859.46 654.7,1857.97 654.7,1856.47 M656.1,1830.48 656.1,1828.98 656.2,1827.48 M657.2,1798.73 657.3,1794.95 657.4,1791.15 657.5,1787.46 657.6,1783.90 657.7,1780.90 657.7,1779.04 M658.2,1751.58 658.2,1750.08 658.2,1748.59 M658.9,1722.60 659.0,1721.10 659.0,1719.60 M659.5,1693.86 659.6,1692.33 659.7,1689.74 659.8,1687.29 659.8,1685.62 659.9,1684.04 660.0,1682.53 660.1,1681.08 660.2,1679.66 660.3,1678.27 660.4,1676.89 660.5,1675.49 660.6,1674.07 660.7,1672.61 660.8,1671.09 660.8,1669.49 660.8,1669.29 M661.8,1643.70 661.8,1642.20 661.9,1640.70 M662.5,1614.72 662.5,1613.22 662.5,1611.72 M663.4,1585.07 663.5,1584.41 663.6,1581.78 663.8,1579.06 663.9,1576.34 664.1,1573.71 664.3,1571.24 664.5,1569.03 664.7,1568.21 M672.0,1597.24 672.2,1598.73 672.4,1600.22 M674.8,1626.22 675.0,1627.71 675.1,1629.21 M677.2,1654.67 677.2,1655.08 677.4,1657.03 677.5,1658.93 677.6,1660.81 677.7,1662.66 677.9,1664.49 678.0,1666.32 678.1,1668.14 678.2,1669.98 678.3,1671.84 678.4,1673.73 678.6,1675.66 678.7,1677.63 678.7,1678.26 M680.4,1705.11 680.5,1706.61 680.7,1708.10 M683.2,1734.10 683.4,1735.59 683.5,1737.09 M686.1,1761.15 686.1,1761.36 686.4,1763.28 686.6,1765.16 686.8,1767.02 687.1,1768.85 687.3,1770.68 687.5,1772.51 687.8,1774.34 688.0,1776.18 688.3,1778.06 688.5,1779.96 688.7,1781.90 689.0,1783.90 689.3,1786.30 689.4,1787.35 M692.1,1813.00 692.2,1814.49 692.4,1815.98 M694.8,1841.01 694.9,1841.86 695.1,1843.41 695.2,1844.95 695.4,1846.50 695.6,1848.05 695.7,1849.62 695.9,1851.23 696.1,1852.88 696.3,1854.59 696.4,1856.36 696.7,1858.71 696.7,1859.72 M698.9,1886.22 699.1,1887.71 699.2,1889.20 M702.4,1914.44 702.6,1915.93 702.8,1917.42 M706.4,1946.42 706.5,1947.02 706.8,1949.31 707.1,1951.62 707.5,1953.92 707.8,1956.23 708.1,1958.53 708.5,1960.82 708.8,1963.10 709.2,1965.36 709.3,1965.88 M713.7,1992.50 714.0,1993.98 714.2,1995.46 M718.3,2021.49 718.5,2022.97 718.8,2024.44 M724.0,2052.66 724.1,2053.10 724.5,2055.29 724.9,2057.48 725.3,2059.67 725.7,2061.87 726.1,2064.06 726.5,2066.26 726.9,2068.45 727.4,2070.64 727.4,2071.08 M733.5,2099.30 733.8,2100.76 734.1,2102.23 M739.7,2126.68 740.1,2128.14 740.4,2129.59 M747.2,2156.15 747.4,2157.01 748.0,2159.43 748.7,2161.88 749.3,2164.35 750.0,2166.82 750.6,2169.30 751.3,2171.76 752.0,2174.19 752.6,2176.60 752.9,2177.44 M761.3,2203.24 761.8,2204.66 762.2,2206.09 M769.6,2230.61 770.1,2232.03 770.6,2233.45 M779.9,2259.09 780.0,2259.41 780.7,2261.47 781.5,2263.55 782.2,2265.63 783.0,2267.70 783.7,2269.76 784.5,2271.81 785.3,2273.83 786.1,2275.81 786.9,2277.76 787.6,2279.42 M802.6,2302.72 803.1,2302.99 803.9,2303.49 804.8,2303.96 805.2,2304.18 M824.3,2301.67 824.6,2301.40 825.4,2300.67 826.2,2299.92 826.5,2299.64 M839.0,2281.30 839.4,2280.80 840.3,2279.85 841.1,2278.91 842.0,2278.00 842.9,2277.12 843.8,2276.27 844.7,2275.45 845.6,2274.68 846.5,2273.94 847.5,2273.26 848.5,2272.62 849.5,2272.03 850.5,2271.53 851.5,2271.06 852.5,2270.62 853.6,2270.22 854.7,2269.85 855.8,2269.52 856.9,2269.23 858.0,2268.98 859.1,2268.78 860.1,2268.63 860.4,2268.61 M884.9,2278.38 884.9,2278.45 886.0,2279.32 887.1,2280.28 M905.9,2298.90 907.0,2299.92 908.1,2300.92 M922.6,2313.32 922.9,2313.58 924.6,2315.09 926.4,2316.65 928.3,2318.24 930.2,2319.84 932.1,2321.44 934.1,2323.02 936.0,2324.56 938.0,2326.06 938.7,2326.55 M963.0,2340.24 964.3,2340.93 965.6,2341.63 M988.1,2353.61 989.5,2354.24 990.8,2354.84 M1018.3,2365.14 1019.1,2365.41 1021.5,2366.14 1023.8,2366.86 1026.2,2367.57 1028.6,2368.27 1030.9,2368.96 1033.3,2369.65 1035.7,2370.33 1038.0,2371.01 1038.8,2371.25 M1064.8,2379.31 1066.3,2379.66 1067.7,2379.99 M1092.8,2384.18 1094.2,2384.41 1095.7,2384.64 M1121.9,2388.65 1122.1,2388.68 1123.4,2388.88 1124.7,2389.07 1125.9,2389.27 1127.2,2389.46 1128.4,2389.65 1129.6,2389.83" fill="none" stroke="#b07ae0" stroke-width="10" stroke-linecap="round" stroke-linejoin="round"/>
<path d="M1167.3,2415.08 1170.5,2415.08 1173.8,2415.08 1177.0,2415.08 1180.2,2415.08 1183.4,2415.07 1186.7,2415.07 1190.1,2415.08 1193.5,2415.08 1197.5,2415.07 1201.7,2415.01 1206.0,2414.95 1210.4,2414.89 1214.7,2414.87 1218.9,2414.91 1223.0,2415.03 1226.9,2415.25 1230.0,2415.50 1233.0,2415.77 1236.0,2416.07 1239.0,2416.42 1241.8,2416.84 1244.5,2417.34 1247.1,2417.94 1249.5,2418.64 1251.3,2419.36 1253.0,2420.22 1254.6,2421.17 1256.2,2422.16 1257.7,2423.14 1259.2,2424.04 1260.7,2424.82 1262.3,2425.42 1263.6,2425.80 1265.0,2426.07 1266.4,2426.25 1267.8,2426.38 1269.2,2426.47 1270.6,2426.54 1272.1,2426.61 1273.6,2426.69 1275.7,2426.82 1277.7,2426.91 1279.8,2426.98 1282.0,2427.04 1284.2,2427.07 1286.6,2427.10 1289.1,2427.11 1291.7,2427.12 1296.1,2427.09 1301.1,2427.01 1306.5,2426.89 1312.0,2426.75 1317.6,2426.60 1323.1,2426.46 1328.2,2426.34 1333.0,2426.27 1336.2,2426.24 1339.3,2426.22 1342.2,2426.20 1345.0,2426.19 1347.8,2426.19 1350.6,2426.21 1353.5,2426.23 1356.5,2426.27 1360.1,2426.33 1363.7,2426.42 1367.5,2426.52 1371.2,2426.63 1375.0,2426.76 1378.7,2426.88 1382.4,2427.00 1386.0,2427.12 1389.1,2427.22 1392.2,2427.34 1395.1,2427.45 1398.1,2427.57 1401.0,2427.68 1404.1,2427.78 1407.2,2427.88 1410.5,2427.97 1414.8,2428.06 1419.2,2428.15 1423.7,2428.22 1428.3,2428.29 1433.1,2428.34 1438.1,2428.38 1443.3,2428.39 1448.8,2428.39 1457.7,2428.38 1467.8,2428.37 1478.6,2428.34 1489.7,2428.28 1500.6,2428.14 1510.8,2427.92 1519.9,2427.59 1527.4,2427.12 1530.5,2426.81 1533.3,2426.44 1535.9,2426.03 1538.2,2425.60 1540.5,2425.18 1542.6,2424.78 1544.8,2424.43 1547.0,2424.15 1549.0,2423.96 1550.9,2423.78 1552.7,2423.63 1554.5,2423.50 1556.3,2423.40 1558.1,2423.33 1559.9,2423.30 1561.8,2423.31 1563.6,2423.35 1565.4,2423.45 1567.2,2423.57 1569.0,2423.73 1570.8,2423.92 1572.7,2424.13 1574.6,2424.35 1576.5,2424.58 1578.7,2424.88 1580.9,2425.23 1583.0,2425.63 1585.3,2426.04 1587.6,2426.45 1590.2,2426.85 1593.0,2427.22 1596.1,2427.54 1603.9,2428.08 1612.9,2428.48 1623.1,2428.78 1634.2,2429.00 1646.0,2429.17 1658.5,2429.32 1671.4,2429.47 1684.5,2429.66 1705.3,2429.96 1727.9,2430.23 1752.0,2430.46 1777.1,2430.67 1803.0,2430.86 1829.2,2431.03 1855.3,2431.20 1880.9,2431.36 1908.0,2431.51 1935.5,2431.64 1963.2,2431.75 1991.1,2431.84 2019.1,2431.93 2047.1,2432.01 2075.0,2432.10 2102.9,2432.20" fill="none" stroke="#b07ae0" stroke-width="10" stroke-linecap="round" stroke-linejoin="round" stroke-dasharray="22 28 0.01 28 0.01 28" stroke-dashoffset="-33"/></g>
<rect x="1722" y="96.6" width="32.5" height="17.7" rx="8.5" ry="8.8" fill="#505050"/>
<rect x="1776.2" y="96.6" width="32.2" height="17.7" rx="8.5" ry="8.8" fill="#505050"/>
<rect x="1829.8" y="96.6" width="31.2" height="17.7" rx="8.5" ry="8.8" fill="#505050"/>
<ellipse cx="1729.5" cy="192.7" rx="6" ry="8.5" fill="#ed3c3c"/>
<ellipse cx="1752.3" cy="192.7" rx="6" ry="8.5" fill="#ed3c3c"/>
<ellipse cx="1775.9" cy="192.7" rx="6" ry="8.5" fill="#ed3c3c"/>
<ellipse cx="1799" cy="192.7" rx="6" ry="8.5" fill="#ed3c3c"/>
<ellipse cx="1822.2" cy="192.7" rx="6" ry="8.5" fill="#ed3c3c"/>
<ellipse cx="1845.7" cy="192.7" rx="6" ry="8.5" fill="#ed3c3c"/>
<rect x="1722.6" y="271.5" width="140" height="17.2" rx="8.6" fill="#1b6fe0"/>
<ellipse cx="1732.6" cy="368.5" rx="10" ry="8.5" fill="#34a864"/>
<ellipse cx="1803.6" cy="368.5" rx="10" ry="8.5" fill="#34a864"/>
<rect x="1722.7" y="447.3" width="57.8" height="17.4" rx="8.7" fill="#b07ae0"/>
<ellipse cx="1818.3" cy="456" rx="10" ry="8.7" fill="#b07ae0"/>
<rect x="1674.4" y="1684.2" width="26.8" height="15" rx="7.5" fill="#505050"/>
<rect x="1720.8" y="1684.2" width="27.2" height="15" rx="7.5" fill="#505050"/>
<rect x="1767.2" y="1684.2" width="27.2" height="15" rx="7.5" fill="#505050"/>
<ellipse cx="1679.3" cy="1774.8" rx="5.3" ry="7.5" fill="#ed3c3c"/>
<ellipse cx="1699.7" cy="1774.8" rx="5.3" ry="7.5" fill="#ed3c3c"/>
<ellipse cx="1720" cy="1774.8" rx="5.3" ry="7.5" fill="#ed3c3c"/>
<ellipse cx="1740.4" cy="1774.8" rx="5.3" ry="7.5" fill="#ed3c3c"/>
<ellipse cx="1760.8" cy="1774.8" rx="5.3" ry="7.5" fill="#ed3c3c"/>
<ellipse cx="1781.2" cy="1774.8" rx="5.3" ry="7.5" fill="#ed3c3c"/>
<rect x="1674.4" y="1850.6" width="120.8" height="16" rx="8" fill="#1b6fe0"/>
<ellipse cx="1683" cy="1943.5" rx="9" ry="8.5" fill="#34a864"/>
<ellipse cx="1744.6" cy="1943.5" rx="9" ry="8.5" fill="#34a864"/>
<rect x="1674.4" y="2020.2" width="49.4" height="15" rx="7.5" fill="#b07ae0"/>
<ellipse cx="1757" cy="2027.7" rx="8.8" ry="8" fill="#b07ae0"/>
<text transform="translate(137.00,57.54) translate(-2.67,0) scale(0.9845,1)" fill="#000"><tspan style="font-size:46.65px">5</tspan></text>
<text transform="translate(123.50,303.00) translate(-0.95,0) scale(1.1713,1)" fill="#000"><tspan style="font-size:41.32px">4</tspan></text>
<text transform="translate(136.50,547.95) translate(-2.03,0) scale(0.9271,1)" fill="#000"><tspan style="font-size:45.69px">3</tspan></text>
<text transform="translate(123.50,806.50) translate(-2.30,0) scale(1.2613,1)" fill="#000"><tspan style="font-size:41.53px">2</tspan></text>
<text transform="translate(131.00,1043.60) translate(-3.25,0) scale(0.7966,1)" fill="#000"><tspan style="font-size:46.35px">1</tspan></text>
<text transform="translate(122.70,1288.77) translate(-1.95,0) scale(1.1672,1)" fill="#000"><tspan style="font-size:43.86px">0</tspan></text>
<text transform="translate(170.60,1351.57) translate(-1.91,0) scale(1.1251,1)" fill="#000"><tspan style="font-size:44.46px">0</tspan></text>
<text transform="translate(357.40,1357.16) translate(-4.14,0) scale(1.0395,1)" fill="#000"><tspan style="font-size:45.35px">10</tspan></text>
<text transform="translate(541.00,1357.16) translate(-2.17,0) scale(1.0906,1)" fill="#000"><tspan style="font-size:45.35px">20</tspan></text>
<text transform="translate(734.40,1357.35) translate(-2.39,0) scale(1.0790,1)" fill="#000"><tspan style="font-size:46.24px">30</tspan></text>
<text transform="translate(929.30,1352.76) translate(-0.96,0) scale(1.0906,1)" fill="#000"><tspan style="font-size:45.05px">40</tspan></text>
<text transform="translate(1151.60,1350.86) translate(-3.27,0) scale(1.1000,1)" fill="#000"><tspan style="font-size:45.05px">70</tspan></text>
<text transform="translate(1270.00,1350.07) translate(-1.83,0) scale(1.0957,1)" fill="#000"><tspan style="font-size:43.86px">80</tspan></text>
<text transform="translate(1387.90,1350.07) translate(-1.51,0) scale(1.0667,1)" fill="#000"><tspan style="font-size:43.86px">90</tspan></text>
<text transform="translate(1501.80,1352.58) translate(-4.17,0) scale(1.0929,1)" fill="#000"><tspan style="font-size:43.42px">100</tspan></text>
<text transform="translate(1627.90,1352.58) translate(-4.07,0) scale(1.0677,1)" fill="#000"><tspan style="font-size:43.42px">110</tspan></text>
<text transform="translate(1745.00,1353.15) translate(-4.21,0) scale(1.0391,1)" fill="#000"><tspan style="font-size:46.09px">120</tspan></text>
<text transform="translate(1861.00,1350.76) translate(-4.16,0) scale(1.0466,1)" fill="#000"><tspan style="font-size:45.20px">130</tspan></text>
<text transform="translate(1981.00,1350.76) translate(-4.09,0) scale(1.0305,1)" fill="#000"><tspan style="font-size:45.20px">140</tspan></text>
<text transform="translate(2103.70,1350.76) translate(-4.20,0) scale(1.0579,1)" fill="#000"><tspan style="font-size:45.20px">150</tspan></text>
<text transform="translate(1797.00,1415.80) translate(-1.47,0) scale(1.0171,1)" fill="#000"><tspan style="font-size:50.00px">Frequency </tspan><tspan style="font-style:italic;font-size:50.00px">f</tspan><tspan style="font-size:50.00px">/</tspan><tspan style="font-size:50.00px"> (Hz)</tspan></text>
<text transform="translate(82.50,942.60) rotate(-90) translate(-1.45,0) scale(0.9868,1)" fill="#000"><tspan style="font-size:51.00px">Response acceleration </tspan><tspan style="font-size:20.40px"> </tspan><tspan style="font-size:51.00px">g/ (m/s</tspan><tspan style="baseline-shift:18.36px;font-size:36.72px">2</tspan><tspan style="font-size:51.00px">)</tspan></text>
<text transform="translate(1878.00,121.00) translate(-1.51,0) scale(1.0392,1)" fill="#000"><tspan style="font-size:50.40px">F60</tspan></text>
<text transform="translate(1878.00,214.40) translate(-1.49,0) scale(1.0311,1)" fill="#000"><tspan style="font-size:50.25px">F30/E30</tspan></text>
<text transform="translate(1878.00,306.00) translate(-1.49,0) scale(1.0342,1)" fill="#000"><tspan style="font-size:50.09px">F20/E40</tspan></text>
<text transform="translate(1879.00,397.70) translate(-1.48,0) scale(1.0266,1)" fill="#000"><tspan style="font-size:50.09px">E60</tspan></text>
<text transform="translate(1878.00,488.60) translate(-1.49,0) scale(1.0568,1)" fill="#000"><tspan style="font-size:49.02px">F40/E20</tspan></text>
<text transform="translate(1180.00,1562.50) translate(-3.58,0) scale(0.9581,1)" fill="#000"><tspan style="font-size:85.00px">(</tspan><tspan style="font-weight:bold;font-size:85.00px">a</tspan><tspan style="font-size:85.00px">)</tspan></text>
<text transform="translate(132.30,1782.07) translate(-1.85,0) scale(1.0539,1)" fill="#000"><tspan style="font-size:54.47px">9</tspan></text>
<text transform="translate(120.00,1908.07) translate(-2.03,0) scale(0.9751,1)" fill="#000"><tspan style="font-size:54.68px">8</tspan></text>
<text transform="translate(116.80,2031.80) translate(-3.77,0) scale(0.9996,1)" fill="#000"><tspan style="font-size:57.27px">7</tspan></text>
<text transform="translate(118.60,2157.76) translate(-2.54,0) scale(1.0638,1)" fill="#000"><tspan style="font-size:55.67px">6</tspan></text>
<text transform="translate(120.00,2280.45) translate(-3.26,0) scale(0.9942,1)" fill="#000"><tspan style="font-size:56.43px">5</tspan></text>
<text transform="translate(114.70,2394.80) translate(-1.12,0) scale(1.0109,1)" fill="#000"><tspan style="font-size:56.82px">4</tspan></text>
<text transform="translate(116.60,2517.67) translate(-2.65,0) scale(1.0177,1)" fill="#000"><tspan style="font-size:54.47px">3</tspan></text>
<text transform="translate(118.20,2641.80) translate(-2.69,0) scale(1.1240,1)" fill="#000"><tspan style="font-size:54.37px">2</tspan></text>
<text transform="translate(122.70,2768.70) translate(-4.32,0) scale(0.8674,1)" fill="#000"><tspan style="font-size:56.65px">1</tspan></text>
<text transform="translate(116.00,2895.26) translate(-2.33,0) scale(1.1145,1)" fill="#000"><tspan style="font-size:54.83px">0</tspan></text>
<text transform="translate(199.10,2954.35) translate(-2.36,0) scale(1.1019,1)" fill="#000"><tspan style="font-size:56.31px">0</tspan></text>
<text transform="translate(346.30,2965.45) translate(-5.10,0) scale(1.0301,1)" fill="#000"><tspan style="font-size:56.31px">10</tspan></text>
<text transform="translate(542.70,2962.95) translate(-2.65,0) scale(1.0698,1)" fill="#000"><tspan style="font-size:56.31px">20</tspan></text>
<text transform="translate(738.10,2963.98) translate(-2.91,0) scale(1.1350,1)" fill="#000"><tspan style="font-size:53.50px">30</tspan></text>
<text transform="translate(903.80,2963.98) translate(-1.16,0) scale(1.1088,1)" fill="#000"><tspan style="font-size:53.50px">40</tspan></text>
<text transform="translate(1140.00,2962.08) translate(-3.46,0) scale(0.9805,1)" fill="#000"><tspan style="font-size:53.50px">70</tspan></text>
<text transform="translate(1265.00,2962.17) translate(-2.25,0) scale(1.0867,1)" fill="#000"><tspan style="font-size:54.39px">80</tspan></text>
<text transform="translate(1371.00,2958.77) translate(-1.94,0) scale(1.1106,1)" fill="#000"><tspan style="font-size:54.24px">90</tspan></text>
<text transform="translate(1472.00,2960.45) translate(-5.20,0) scale(1.0425,1)" fill="#000"><tspan style="font-size:56.76px">100</tspan></text>
<text transform="translate(1583.60,2956.96) translate(-5.01,0) scale(1.0268,1)" fill="#000"><tspan style="font-size:55.57px">110</tspan></text>
<text transform="translate(1713.00,2957.97) translate(-5.15,0) scale(1.0891,1)" fill="#000"><tspan style="font-size:53.79px">120</tspan></text>
<text transform="translate(1826.30,2959.77) translate(-5.09,0) scale(1.0769,1)" fill="#000"><tspan style="font-size:53.79px">130</tspan></text>
<text transform="translate(1956.00,2959.77) translate(-5.02,0) scale(1.0621,1)" fill="#000"><tspan style="font-size:53.79px">140</tspan></text>
<text transform="translate(2084.00,2959.77) translate(-5.09,0) scale(1.0756,1)" fill="#000"><tspan style="font-size:53.79px">150</tspan></text>
<text transform="translate(1660.40,3055.40) translate(-1.81,0) scale(1.0347,1)" fill="#000"><tspan style="font-size:60.80px">Frequency </tspan><tspan style="font-style:italic;font-size:60.80px">f</tspan><tspan style="font-size:60.80px">/</tspan><tspan style="font-size:60.80px"> (Hz)</tspan></text>
<text transform="translate(74.30,2757.00) rotate(-90) translate(-0.70,0) scale(1.0104,1)" fill="#000"><tspan style="font-size:62.00px">Vibration transmission rate </tspan><tspan style="font-style:italic;font-size:62.00px">T</tspan><tspan style="font-style:italic;baseline-shift:-7.69px;font-size:38.44px">r</tspan></text>
<text transform="translate(1839.70,1712.50) translate(-1.56,0) scale(1.1705,1)" fill="#000"><tspan style="font-size:46.12px">F60</tspan></text>
<text transform="translate(1839.70,1795.50) translate(-1.53,0) scale(1.1509,1)" fill="#000"><tspan style="font-size:46.12px">F30/E30</tspan></text>
<text transform="translate(1839.70,1881.20) translate(-1.53,0) scale(1.1248,1)" fill="#000"><tspan style="font-size:47.19px">F20/E40</tspan></text>
<text transform="translate(1839.70,1964.70) translate(-1.55,0) scale(1.1224,1)" fill="#000"><tspan style="font-size:47.95px">E60</tspan></text>
<text transform="translate(1839.70,2048.50) translate(-1.53,0) scale(1.1069,1)" fill="#000"><tspan style="font-size:47.95px">F40/E20</tspan></text>
<text transform="translate(1175.20,3176.00) translate(-3.74,0) scale(1.0019,1)" fill="#000"><tspan style="font-size:85.00px">(</tspan><tspan style="font-weight:bold;font-size:85.00px">b</tspan><tspan style="font-size:85.00px">)</tspan></text>
</svg></body></html>
